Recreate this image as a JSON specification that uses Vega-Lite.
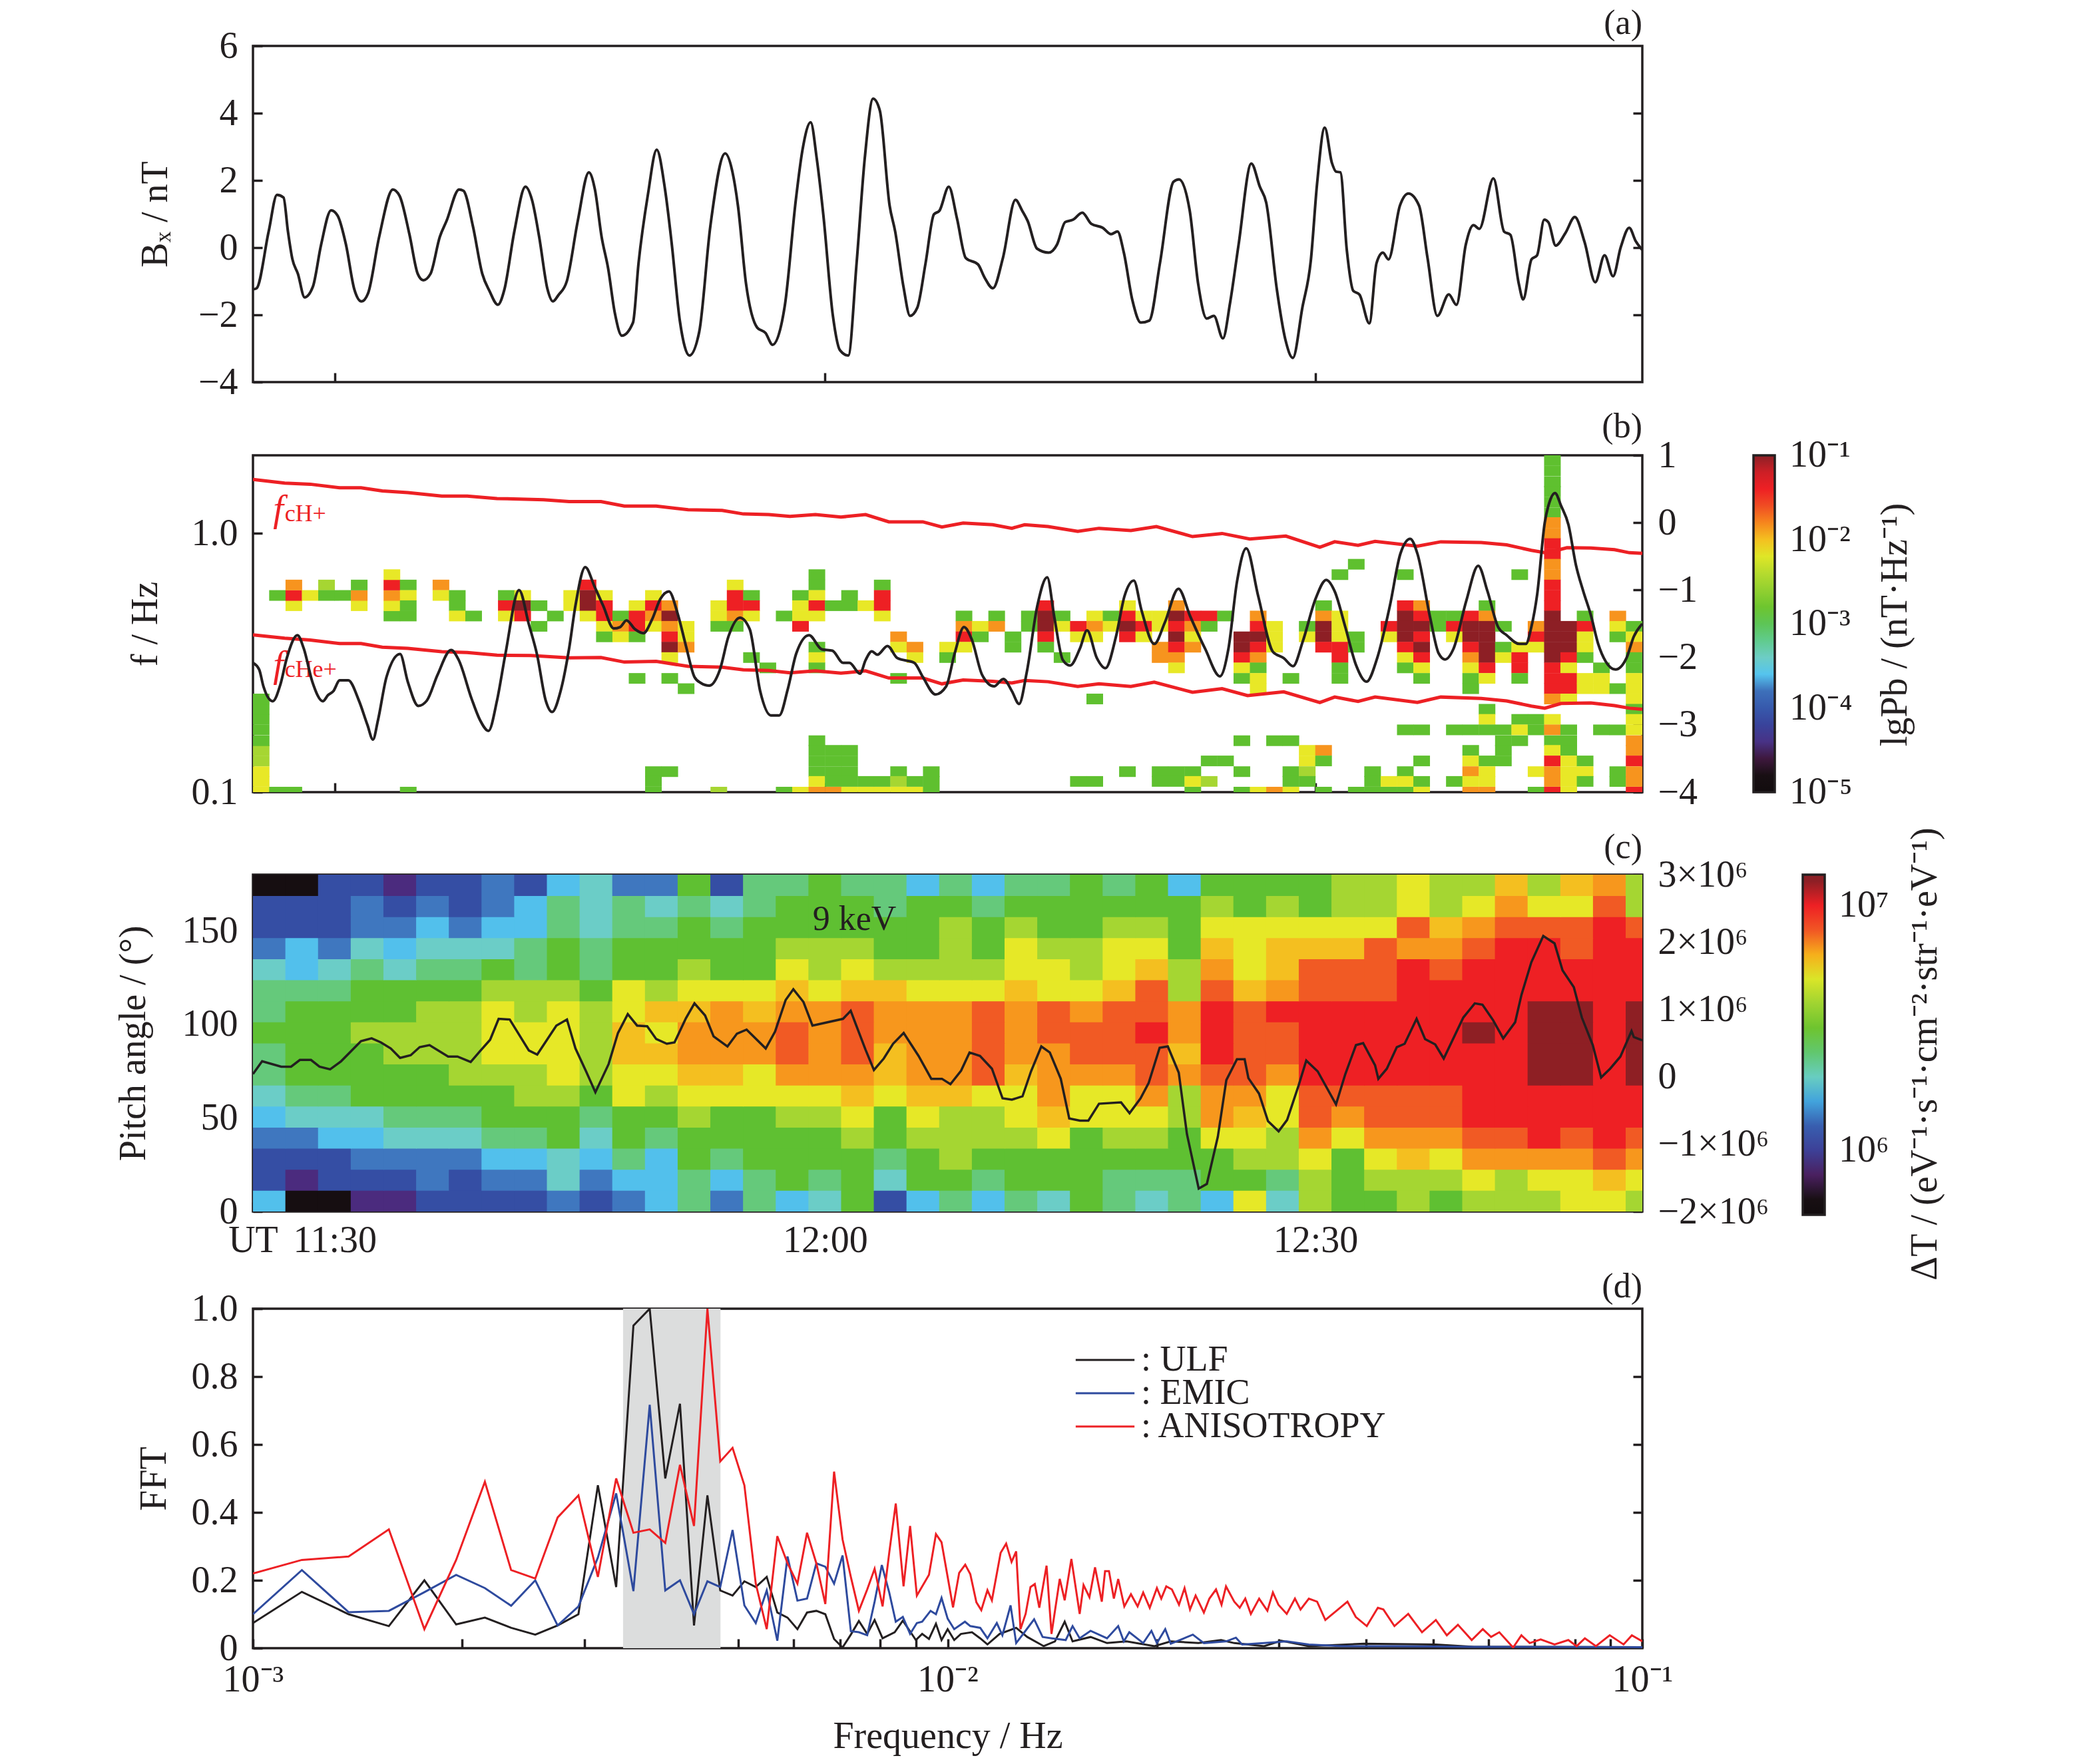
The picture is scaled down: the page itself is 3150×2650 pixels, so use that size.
{"$schema":"https://vega.github.io/schema/vega-lite/v6.json","background":"white","padding":{"left":170,"top":7,"right":0,"bottom":0},"bounds":"flush","spacing":0,
"resolve":{"scale":{"color":"independent"},"legend":{"color":"independent"}},
"config":{"font":"Liberation Serif","view":{"stroke":"#231f20","strokeWidth":3.5},"axis":{"grid":false,"domain":false,"tickSize":-14,"tickWidth":3.5,"tickColor":"#231f20","labelFont":"Liberation Serif","labelFontSize":56,"labelColor":"#231f20","labelPadding":37,"labelOverlap":false,"labelFlush":false,"titleFont":"Liberation Serif","titleFontSize":56,"titleFontWeight":"normal","titleColor":"#231f20"},"title":{"font":"Liberation Serif","fontSize":52,"fontWeight":"normal","color":"#231f20","anchor":"end","frame":"group"},"legend":{"labelFont":"Liberation Serif","labelColor":"#231f20","labelLimit":600}},
"datasets":{
"bx":[{"t":0.02,"v":-1.24},{"t":0.22,"v":-1.21},{"t":0.96,"v":0.48},{"t":1.47,"v":1.57},{"t":1.87,"v":1.49},{"t":2.14,"v":0.48},{"t":2.41,"v":-0.34},{"t":2.75,"v":-0.78},{"t":3.16,"v":-1.48},{"t":3.66,"v":-1.17},{"t":4.17,"v":0.09},{"t":4.78,"v":1.11},{"t":5.18,"v":0.95},{"t":5.69,"v":0.09},{"t":6.2,"v":-1.24},{"t":6.64,"v":-1.6},{"t":7.04,"v":-1.36},{"t":7.72,"v":0.32},{"t":8.56,"v":1.73},{"t":8.97,"v":1.54},{"t":9.57,"v":0.4},{"t":10.08,"v":-0.78},{"t":10.42,"v":-0.97},{"t":10.86,"v":-0.78},{"t":11.43,"v":0.32},{"t":11.84,"v":0.79},{"t":12.61,"v":1.73},{"t":12.88,"v":1.69},{"t":13.46,"v":0.63},{"t":14.03,"v":-0.78},{"t":14.47,"v":-1.29},{"t":14.98,"v":-1.7},{"t":15.38,"v":-1.25},{"t":15.99,"v":0.48},{"t":16.67,"v":1.81},{"t":17.07,"v":1.42},{"t":17.51,"v":0.32},{"t":18.02,"v":-1.24},{"t":18.35,"v":-1.6},{"t":18.69,"v":-1.41},{"t":19.2,"v":-1.0},{"t":19.87,"v":0.79},{"t":20.55,"v":2.24},{"t":20.92,"v":1.73},{"t":21.33,"v":0.32},{"t":21.73,"v":-0.62},{"t":22.14,"v":-1.95},{"t":22.57,"v":-2.62},{"t":23.25,"v":-2.23},{"t":23.59,"v":-0.46},{"t":24.16,"v":1.57},{"t":24.7,"v":2.91},{"t":25.21,"v":1.73},{"t":25.61,"v":0.16},{"t":26.12,"v":-2.19},{"t":26.7,"v":-3.21},{"t":27.3,"v":-2.51},{"t":27.98,"v":0.63},{"t":28.89,"v":2.8},{"t":29.33,"v":2.26},{"t":29.67,"v":1.25},{"t":30.17,"v":-1.09},{"t":30.85,"v":-2.38},{"t":31.36,"v":-2.54},{"t":31.79,"v":-2.89},{"t":32.54,"v":-1.72},{"t":33.21,"v":1.41},{"t":33.62,"v":2.91},{"t":34.12,"v":3.73},{"t":34.49,"v":2.66},{"t":34.9,"v":0.95},{"t":35.48,"v":-2.03},{"t":35.91,"v":-3.05},{"t":36.42,"v":-3.21},{"t":36.93,"v":-0.46},{"t":37.43,"v":2.66},{"t":37.94,"v":4.43},{"t":38.35,"v":4.08},{"t":38.95,"v":1.25},{"t":39.29,"v":0.48},{"t":39.8,"v":-1.17},{"t":40.2,"v":-2.03},{"t":40.64,"v":-1.79},{"t":41.15,"v":-0.46},{"t":41.66,"v":0.99},{"t":42.0,"v":1.1},{"t":42.57,"v":1.81},{"t":43.07,"v":0.87},{"t":43.61,"v":-0.31},{"t":44.36,"v":-0.5},{"t":44.76,"v":-0.89},{"t":45.27,"v":-1.21},{"t":45.88,"v":-0.31},{"t":46.65,"v":1.42},{"t":47.06,"v":1.1},{"t":47.4,"v":0.79},{"t":47.97,"v":-0.03},{"t":48.68,"v":-0.15},{"t":49.19,"v":0.09},{"t":49.69,"v":0.76},{"t":50.17,"v":0.83},{"t":50.74,"v":1.04},{"t":51.28,"v":0.71},{"t":51.99,"v":0.59},{"t":52.5,"v":0.4},{"t":52.89,"v":0.48},{"t":53.28,"v":-0.15},{"t":53.8,"v":-1.56},{"t":54.32,"v":-2.23},{"t":54.84,"v":-2.17},{"t":55.49,"v":-0.46},{"t":56.32,"v":1.96},{"t":56.66,"v":2.03},{"t":57.31,"v":1.1},{"t":57.83,"v":-1.09},{"t":58.35,"v":-2.11},{"t":58.79,"v":-2.03},{"t":59.34,"v":-2.7},{"t":59.78,"v":-1.64},{"t":60.3,"v":0.09},{"t":61.08,"v":2.5},{"t":61.6,"v":1.81},{"t":61.99,"v":1.34},{"t":62.64,"v":-1.24},{"t":63.16,"v":-2.73},{"t":63.62,"v":-3.28},{"t":64.2,"v":-1.79},{"t":64.72,"v":-0.38},{"t":65.1,"v":1.89},{"t":65.57,"v":3.57},{"t":66.01,"v":2.52},{"t":66.27,"v":2.26},{"t":66.53,"v":2.24},{"t":66.92,"v":-0.07},{"t":67.31,"v":-1.28},{"t":67.7,"v":-1.4},{"t":68.3,"v":-2.25},{"t":68.74,"v":-0.46},{"t":69.13,"v":-0.15},{"t":69.47,"v":-0.35},{"t":70.17,"v":1.25},{"t":70.69,"v":1.61},{"t":71.34,"v":1.25},{"t":71.86,"v":-0.31},{"t":72.46,"v":-2.03},{"t":73.16,"v":-1.39},{"t":73.63,"v":-1.7},{"t":74.2,"v":0.09},{"t":74.67,"v":0.67},{"t":75.03,"v":0.56},{"t":75.89,"v":2.06},{"t":76.54,"v":0.48},{"t":76.93,"v":0.38},{"t":77.45,"v":-1.09},{"t":77.71,"v":-1.54},{"t":78.22,"v":-0.35},{"t":78.56,"v":-0.23},{"t":79.0,"v":0.83},{"t":79.26,"v":0.75},{"t":79.7,"v":0.06},{"t":80.3,"v":0.44},{"t":80.87,"v":0.91},{"t":81.47,"v":0.16},{"t":82.12,"v":-1.03},{"t":82.69,"v":-0.23},{"t":83.21,"v":-0.85},{"t":83.68,"v":0.01},{"t":84.2,"v":0.59},{"t":84.59,"v":0.2},{"t":85.0,"v":-0.07}],
"ulf2":[{"t":0,"v":-2.08},{"t":0.38,"v":-2.18},{"t":0.64,"v":-2.43},{"t":1.21,"v":-2.65},{"t":1.68,"v":-2.4},{"t":2.07,"v":-2.01},{"t":2.72,"v":-1.67},{"t":3.11,"v":-1.87},{"t":3.63,"v":-2.36},{"t":4.28,"v":-2.65},{"t":4.59,"v":-2.56},{"t":4.92,"v":-2.5},{"t":5.31,"v":-2.34},{"t":5.83,"v":-2.34},{"t":6.48,"v":-2.64},{"t":7.0,"v":-3.0},{"t":7.34,"v":-3.22},{"t":7.65,"v":-2.93},{"t":8.17,"v":-2.29},{"t":9.0,"v":-1.95},{"t":9.47,"v":-2.36},{"t":10.12,"v":-2.72},{"t":10.64,"v":-2.64},{"t":11.29,"v":-2.26},{"t":12.12,"v":-1.89},{"t":12.59,"v":-2.04},{"t":13.37,"v":-2.61},{"t":13.89,"v":-2.93},{"t":14.41,"v":-3.09},{"t":14.93,"v":-2.64},{"t":15.45,"v":-1.94},{"t":16.28,"v":-1.0},{"t":16.88,"v":-1.51},{"t":17.39,"v":-1.97},{"t":17.91,"v":-2.64},{"t":18.3,"v":-2.81},{"t":18.82,"v":-2.5},{"t":19.34,"v":-1.87},{"t":19.73,"v":-1.23},{"t":20.33,"v":-0.66},{"t":20.9,"v":-0.95},{"t":21.42,"v":-1.23},{"t":22.07,"v":-1.57},{"t":22.46,"v":-1.55},{"t":22.85,"v":-1.45},{"t":23.37,"v":-1.58},{"t":23.89,"v":-1.64},{"t":24.41,"v":-1.44},{"t":24.93,"v":-1.13},{"t":25.45,"v":-1.02},{"t":25.97,"v":-1.34},{"t":26.49,"v":-1.83},{"t":27.01,"v":-2.29},{"t":27.4,"v":-2.38},{"t":27.92,"v":-2.42},{"t":28.57,"v":-2.18},{"t":29.09,"v":-1.69},{"t":29.79,"v":-1.41},{"t":30.39,"v":-1.58},{"t":31.03,"v":-2.5},{"t":31.68,"v":-2.86},{"t":32.2,"v":-2.86},{"t":32.72,"v":-2.47},{"t":33.24,"v":-1.94},{"t":34.02,"v":-1.67},{"t":34.8,"v":-1.88},{"t":35.45,"v":-1.9},{"t":36.1,"v":-2.08},{"t":36.49,"v":-2.08},{"t":37.14,"v":-2.24},{"t":37.48,"v":-2.04},{"t":37.86,"v":-1.91},{"t":38.2,"v":-1.96},{"t":38.82,"v":-1.83},{"t":39.42,"v":-2.01},{"t":40.46,"v":-2.08},{"t":40.98,"v":-2.29},{"t":41.76,"v":-2.55},{"t":42.41,"v":-2.43},{"t":42.93,"v":-1.94},{"t":43.5,"v":-1.55},{"t":43.97,"v":-1.73},{"t":44.61,"v":-2.26},{"t":45.34,"v":-2.43},{"t":45.91,"v":-2.32},{"t":46.43,"v":-2.5},{"t":46.87,"v":-2.69},{"t":47.34,"v":-2.22},{"t":47.99,"v":-1.23},{"t":48.59,"v":-0.81},{"t":49.03,"v":-1.41},{"t":49.55,"v":-2.04},{"t":49.99,"v":-2.12},{"t":50.59,"v":-1.87},{"t":51.03,"v":-1.6},{"t":51.63,"v":-2.01},{"t":52.15,"v":-2.16},{"t":52.8,"v":-1.69},{"t":53.32,"v":-1.09},{"t":53.89,"v":-0.86},{"t":54.36,"v":-1.3},{"t":55.14,"v":-1.8},{"t":55.79,"v":-1.48},{"t":56.62,"v":-0.98},{"t":57.34,"v":-1.39},{"t":58.25,"v":-1.87},{"t":59.16,"v":-2.28},{"t":59.68,"v":-1.87},{"t":60.2,"v":-0.88},{"t":60.77,"v":-0.38},{"t":61.5,"v":-1.09},{"t":62.41,"v":-1.92},{"t":63.06,"v":-2.01},{"t":63.63,"v":-2.13},{"t":64.23,"v":-1.76},{"t":65.01,"v":-1.13},{"t":65.66,"v":-0.85},{"t":66.18,"v":-1.02},{"t":66.83,"v":-1.55},{"t":67.48,"v":-2.11},{"t":68.13,"v":-2.36},{"t":68.78,"v":-2.01},{"t":69.56,"v":-1.23},{"t":70.2,"v":-0.46},{"t":70.8,"v":-0.24},{"t":71.24,"v":-0.46},{"t":72.02,"v":-1.41},{"t":72.54,"v":-1.94},{"t":72.93,"v":-2.03},{"t":73.45,"v":-1.87},{"t":74.23,"v":-1.16},{"t":74.96,"v":-0.64},{"t":75.53,"v":-1.02},{"t":76.18,"v":-1.55},{"t":76.7,"v":-1.67},{"t":77.48,"v":-1.8},{"t":77.87,"v":-1.8},{"t":78.21,"v":-1.55},{"t":78.57,"v":-1.06},{"t":79.03,"v":0},{"t":79.3,"v":0.29},{"t":79.66,"v":0.44},{"t":80.03,"v":0.25},{"t":80.48,"v":-0.03},{"t":80.94,"v":-0.63},{"t":81.39,"v":-1.02},{"t":81.85,"v":-1.37},{"t":82.3,"v":-1.8},{"t":82.76,"v":-2.06},{"t":83.36,"v":-2.18},{"t":84.03,"v":-2.01},{"t":84.48,"v":-1.69},{"t":85,"v":-1.5}],
"gyro":[{"s":"H","t":0,"f":1.613},{"s":"H","t":1.94,"f":1.563},{"s":"H","t":3.5,"f":1.547},{"s":"H","t":5.31,"f":1.498},{"s":"H","t":6.61,"f":1.498},{"s":"H","t":7.91,"f":1.457},{"s":"H","t":9.47,"f":1.436},{"s":"H","t":11.55,"f":1.391},{"s":"H","t":13.11,"f":1.391},{"s":"H","t":14.93,"f":1.362},{"s":"H","t":17.78,"f":1.348},{"s":"H","t":19.34,"f":1.325},{"s":"H","t":21.29,"f":1.325},{"s":"H","t":22.72,"f":1.273},{"s":"H","t":24.67,"f":1.273},{"s":"H","t":26.62,"f":1.233},{"s":"H","t":28.7,"f":1.225},{"s":"H","t":30.0,"f":1.187},{"s":"H","t":31.55,"f":1.18},{"s":"H","t":32.85,"f":1.162},{"s":"H","t":34.41,"f":1.18},{"s":"H","t":35.97,"f":1.155},{"s":"H","t":37.48,"f":1.18},{"s":"H","t":38.9,"f":1.107},{"s":"H","t":40.98,"f":1.107},{"s":"H","t":42.15,"f":1.057},{"s":"H","t":43.45,"f":1.095},{"s":"H","t":45.26,"f":1.079},{"s":"H","t":46.43,"f":1.045},{"s":"H","t":47.21,"f":1.079},{"s":"H","t":48.64,"f":1.061},{"s":"H","t":50.46,"f":1.017},{"s":"H","t":51.76,"f":1.045},{"s":"H","t":53.71,"f":1.024},{"s":"H","t":55.27,"f":1.061},{"s":"H","t":57.48,"f":0.971},{"s":"H","t":59.29,"f":0.998},{"s":"H","t":60.98,"f":0.95},{"s":"H","t":63.19,"f":0.975},{"s":"H","t":65.27,"f":0.883},{"s":"H","t":66.18,"f":0.927},{"s":"H","t":67.61,"f":0.898},{"s":"H","t":68.65,"f":0.93},{"s":"H","t":71.24,"f":0.892},{"s":"H","t":72.67,"f":0.927},{"s":"H","t":75.14,"f":0.921},{"s":"H","t":76.7,"f":0.902},{"s":"H","t":78.21,"f":0.859},{"s":"H","t":79.03,"f":0.841},{"s":"H","t":79.66,"f":0.855},{"s":"H","t":80.39,"f":0.879},{"s":"H","t":81.85,"f":0.877},{"s":"H","t":83.3,"f":0.864},{"s":"H","t":84.21,"f":0.841},{"s":"H","t":85,"f":0.837},
{"s":"He","t":0,"f":0.405},{"s":"He","t":1.94,"f":0.393},{"s":"He","t":3.5,"f":0.387},{"s":"He","t":5.31,"f":0.375},{"s":"He","t":6.61,"f":0.375},{"s":"He","t":7.91,"f":0.363},{"s":"He","t":9.47,"f":0.359},{"s":"He","t":11.55,"f":0.349},{"s":"He","t":13.11,"f":0.346},{"s":"He","t":14.93,"f":0.338},{"s":"He","t":17,"f":0.337},{"s":"He","t":19.34,"f":0.33},{"s":"He","t":21.29,"f":0.331},{"s":"He","t":22.72,"f":0.318},{"s":"He","t":24.67,"f":0.32},{"s":"He","t":26.62,"f":0.306},{"s":"He","t":28.7,"f":0.304},{"s":"He","t":30,"f":0.297},{"s":"He","t":31.55,"f":0.295},{"s":"He","t":32.85,"f":0.289},{"s":"He","t":34.41,"f":0.294},{"s":"He","t":35.97,"f":0.288},{"s":"He","t":37.48,"f":0.294},{"s":"He","t":38.9,"f":0.276},{"s":"He","t":40.98,"f":0.276},{"s":"He","t":42.15,"f":0.262},{"s":"He","t":43.45,"f":0.271},{"s":"He","t":45.26,"f":0.268},{"s":"He","t":46.43,"f":0.264},{"s":"He","t":47.21,"f":0.27},{"s":"He","t":48.64,"f":0.267},{"s":"He","t":50.46,"f":0.256},{"s":"He","t":51.76,"f":0.262},{"s":"He","t":53.71,"f":0.256},{"s":"He","t":55.14,"f":0.266},{"s":"He","t":57.48,"f":0.243},{"s":"He","t":59.29,"f":0.251},{"s":"He","t":60.85,"f":0.236},{"s":"He","t":63.06,"f":0.244},{"s":"He","t":65.27,"f":0.222},{"s":"He","t":66.18,"f":0.233},{"s":"He","t":67.61,"f":0.224},{"s":"He","t":68.65,"f":0.233},{"s":"He","t":71.24,"f":0.222},{"s":"He","t":72.67,"f":0.233},{"s":"He","t":75.14,"f":0.23},{"s":"He","t":76.7,"f":0.225},{"s":"He","t":78.21,"f":0.215},{"s":"He","t":79.03,"f":0.211},{"s":"He","t":80.03,"f":0.22},{"s":"He","t":81.85,"f":0.221},{"s":"He","t":83.3,"f":0.216},{"s":"He","t":84.21,"f":0.211},{"s":"He","t":85,"f":0.209}],
"spec":[{"t":0.5,"f":0.1,"v":-2.16},{"t":0.5,"f":0.11,"v":-2.16},{"t":0.5,"f":0.12,"v":-2.16},{"t":0.5,"f":0.132,"v":-2.48},{"t":0.5,"f":0.145,"v":-2.48},{"t":0.5,"f":0.158,"v":-2.88},{"t":0.5,"f":0.174,"v":-2.88},{"t":0.5,"f":0.191,"v":-2.88},{"t":0.5,"f":0.209,"v":-2.88},{"t":0.5,"f":0.229,"v":-2.88},{"t":1.5,"f":0.1,"v":-2.88},{"t":1.5,"f":0.575,"v":-2.88},{"t":2.5,"f":0.1,"v":-2.88},{"t":2.5,"f":0.525,"v":-2.16},{"t":2.5,"f":0.575,"v":-1.4},{"t":2.5,"f":0.631,"v":-1.84},{"t":3.5,"f":0.575,"v":-2.16},{"t":4.5,"f":0.631,"v":-2.48},{"t":4.5,"f":0.575,"v":-2.88},{"t":5.5,"f":0.575,"v":-2.88},{"t":6.5,"f":0.525,"v":-2.16},{"t":6.5,"f":0.575,"v":-1.84},{"t":6.5,"f":0.631,"v":-2.88},{"t":8.5,"f":0.479,"v":-2.88},{"t":8.5,"f":0.525,"v":-2.16},{"t":8.5,"f":0.575,"v":-1.84},{"t":8.5,"f":0.631,"v":-1.4},{"t":8.5,"f":0.692,"v":-2.16},{"t":9.5,"f":0.1,"v":-2.88},{"t":9.5,"f":0.631,"v":-2.88},{"t":9.5,"f":0.575,"v":-2.16},{"t":9.5,"f":0.525,"v":-2.88},{"t":9.5,"f":0.479,"v":-2.88},{"t":11.5,"f":0.631,"v":-1.84},{"t":11.5,"f":0.575,"v":-2.16},{"t":12.5,"f":0.575,"v":-2.88},{"t":12.5,"f":0.525,"v":-2.88},{"t":12.5,"f":0.479,"v":-2.16},{"t":13.5,"f":0.479,"v":-2.88},{"t":15.5,"f":0.575,"v":-2.88},{"t":15.5,"f":0.525,"v":-1.4},{"t":15.5,"f":0.479,"v":-2.16},{"t":16.5,"f":0.575,"v":-2.16},{"t":16.5,"f":0.525,"v":-1.08},{"t":16.5,"f":0.479,"v":-1.4},{"t":17.5,"f":0.525,"v":-2.88},{"t":17.5,"f":0.437,"v":-2.88},{"t":18.5,"f":0.479,"v":-2.88},{"t":19.5,"f":0.575,"v":-2.16},{"t":19.5,"f":0.525,"v":-2.16},{"t":20.5,"f":0.631,"v":-1.4},{"t":20.5,"f":0.575,"v":-1.08},{"t":20.5,"f":0.525,"v":-1.08},{"t":20.5,"f":0.479,"v":-2.16},{"t":21.5,"f":0.575,"v":-2.16},{"t":21.5,"f":0.525,"v":-1.4},{"t":21.5,"f":0.479,"v":-1.4},{"t":21.5,"f":0.437,"v":-2.16},{"t":21.5,"f":0.398,"v":-2.88},{"t":22.5,"f":0.479,"v":-2.88},{"t":22.5,"f":0.437,"v":-1.84},{"t":22.5,"f":0.398,"v":-2.16},{"t":23.5,"f":0.525,"v":-2.16},{"t":23.5,"f":0.479,"v":-1.4},{"t":23.5,"f":0.437,"v":-1.4},{"t":23.5,"f":0.398,"v":-2.88},{"t":23.5,"f":0.275,"v":-2.88},{"t":24.5,"f":0.575,"v":-2.16},{"t":24.5,"f":0.525,"v":-1.4},{"t":24.5,"f":0.479,"v":-1.84},{"t":24.5,"f":0.437,"v":-2.16},{"t":24.5,"f":0.12,"v":-2.88},{"t":24.5,"f":0.11,"v":-2.88},{"t":24.5,"f":0.1,"v":-2.88},{"t":25.5,"f":0.525,"v":-1.84},{"t":25.5,"f":0.479,"v":-1.08},{"t":25.5,"f":0.437,"v":-1.84},{"t":25.5,"f":0.398,"v":-1.4},{"t":25.5,"f":0.363,"v":-1.08},{"t":25.5,"f":0.331,"v":-2.16},{"t":25.5,"f":0.275,"v":-2.88},{"t":25.5,"f":0.12,"v":-2.88},{"t":26.5,"f":0.437,"v":-2.16},{"t":26.5,"f":0.398,"v":-2.16},{"t":26.5,"f":0.363,"v":-1.84},{"t":26.5,"f":0.251,"v":-2.88},{"t":28.5,"f":0.525,"v":-2.16},{"t":28.5,"f":0.479,"v":-2.16},{"t":28.5,"f":0.437,"v":-2.88},{"t":28.5,"f":0.1,"v":-2.48},{"t":29.5,"f":0.631,"v":-2.16},{"t":29.5,"f":0.575,"v":-1.4},{"t":29.5,"f":0.525,"v":-1.4},{"t":29.5,"f":0.479,"v":-1.84},{"t":29.5,"f":0.437,"v":-2.88},{"t":30.5,"f":0.575,"v":-2.88},{"t":30.5,"f":0.525,"v":-1.4},{"t":30.5,"f":0.479,"v":-2.16},{"t":30.5,"f":0.331,"v":-2.88},{"t":31.5,"f":0.302,"v":-2.88},{"t":32.5,"f":0.1,"v":-2.88},{"t":32.5,"f":0.479,"v":-2.88},{"t":33.5,"f":0.575,"v":-2.88},{"t":33.5,"f":0.525,"v":-2.16},{"t":33.5,"f":0.479,"v":-2.16},{"t":33.5,"f":0.437,"v":-1.4},{"t":33.5,"f":0.1,"v":-2.16},{"t":34.5,"f":0.692,"v":-2.88},{"t":34.5,"f":0.631,"v":-2.88},{"t":34.5,"f":0.575,"v":-2.16},{"t":34.5,"f":0.525,"v":-1.4},{"t":34.5,"f":0.479,"v":-2.16},{"t":34.5,"f":0.363,"v":-2.88},{"t":34.5,"f":0.331,"v":-2.16},{"t":34.5,"f":0.302,"v":-2.88},{"t":34.5,"f":0.158,"v":-2.88},{"t":34.5,"f":0.145,"v":-2.88},{"t":34.5,"f":0.132,"v":-2.88},{"t":34.5,"f":0.12,"v":-2.88},{"t":34.5,"f":0.11,"v":-2.16},{"t":34.5,"f":0.1,"v":-1.84},{"t":35.5,"f":0.525,"v":-2.88},{"t":35.5,"f":0.145,"v":-2.88},{"t":35.5,"f":0.132,"v":-2.88},{"t":35.5,"f":0.12,"v":-2.88},{"t":35.5,"f":0.11,"v":-2.88},{"t":35.5,"f":0.1,"v":-1.84},{"t":36.5,"f":0.575,"v":-2.88},{"t":36.5,"f":0.525,"v":-2.88},{"t":36.5,"f":0.145,"v":-2.88},{"t":36.5,"f":0.132,"v":-2.88},{"t":36.5,"f":0.12,"v":-2.88},{"t":36.5,"f":0.11,"v":-2.88},{"t":36.5,"f":0.1,"v":-2.16},{"t":37.5,"f":0.525,"v":-2.16},{"t":37.5,"f":0.11,"v":-2.88},{"t":37.5,"f":0.1,"v":-2.16},{"t":38.5,"f":0.631,"v":-2.88},{"t":38.5,"f":0.575,"v":-1.4},{"t":38.5,"f":0.525,"v":-1.4},{"t":38.5,"f":0.479,"v":-2.16},{"t":38.5,"f":0.11,"v":-2.88},{"t":38.5,"f":0.1,"v":-2.16},{"t":39.5,"f":0.398,"v":-1.84},{"t":39.5,"f":0.363,"v":-2.16},{"t":39.5,"f":0.275,"v":-2.88},{"t":39.5,"f":0.12,"v":-2.88},{"t":39.5,"f":0.11,"v":-2.48},{"t":39.5,"f":0.1,"v":-2.16},{"t":40.5,"f":0.363,"v":-1.84},{"t":40.5,"f":0.331,"v":-2.16},{"t":40.5,"f":0.11,"v":-2.88},{"t":40.5,"f":0.1,"v":-2.16},{"t":41.5,"f":0.12,"v":-2.88},{"t":41.5,"f":0.11,"v":-2.88},{"t":41.5,"f":0.1,"v":-2.88},{"t":42.5,"f":0.363,"v":-2.16},{"t":42.5,"f":0.331,"v":-2.88},{"t":43.5,"f":0.479,"v":-2.88},{"t":43.5,"f":0.437,"v":-1.84},{"t":43.5,"f":0.398,"v":-1.4},{"t":43.5,"f":0.363,"v":-2.16},{"t":44.5,"f":0.437,"v":-2.16},{"t":44.5,"f":0.398,"v":-2.88},{"t":45.5,"f":0.479,"v":-2.88},{"t":45.5,"f":0.437,"v":-1.84},{"t":46.5,"f":0.398,"v":-2.88},{"t":46.5,"f":0.363,"v":-2.88},{"t":47.5,"f":0.479,"v":-2.88},{"t":47.5,"f":0.437,"v":-2.88},{"t":48.5,"f":0.525,"v":-1.4},{"t":48.5,"f":0.479,"v":-1.08},{"t":48.5,"f":0.437,"v":-1.08},{"t":48.5,"f":0.398,"v":-1.4},{"t":48.5,"f":0.363,"v":-2.88},{"t":49.5,"f":0.479,"v":-2.88},{"t":49.5,"f":0.437,"v":-2.16},{"t":49.5,"f":0.331,"v":-2.88},{"t":50.5,"f":0.437,"v":-1.4},{"t":50.5,"f":0.398,"v":-2.16},{"t":50.5,"f":0.11,"v":-2.88},{"t":51.5,"f":0.479,"v":-2.16},{"t":51.5,"f":0.437,"v":-1.84},{"t":51.5,"f":0.398,"v":-2.16},{"t":51.5,"f":0.229,"v":-2.88},{"t":51.5,"f":0.11,"v":-2.88},{"t":52.5,"f":0.479,"v":-2.88},{"t":52.5,"f":0.437,"v":-2.16},{"t":53.5,"f":0.525,"v":-2.16},{"t":53.5,"f":0.479,"v":-1.4},{"t":53.5,"f":0.437,"v":-1.08},{"t":53.5,"f":0.398,"v":-1.4},{"t":53.5,"f":0.12,"v":-2.88},{"t":54.5,"f":0.479,"v":-2.16},{"t":54.5,"f":0.437,"v":-1.4},{"t":54.5,"f":0.398,"v":-2.16},{"t":55.5,"f":0.479,"v":-2.16},{"t":55.5,"f":0.437,"v":-2.16},{"t":55.5,"f":0.363,"v":-1.84},{"t":55.5,"f":0.331,"v":-1.84},{"t":55.5,"f":0.12,"v":-2.88},{"t":55.5,"f":0.11,"v":-2.88},{"t":56.5,"f":0.525,"v":-1.84},{"t":56.5,"f":0.479,"v":-1.08},{"t":56.5,"f":0.437,"v":-1.4},{"t":56.5,"f":0.398,"v":-1.08},{"t":56.5,"f":0.363,"v":-1.4},{"t":56.5,"f":0.331,"v":-1.84},{"t":56.5,"f":0.302,"v":-2.16},{"t":56.5,"f":0.12,"v":-2.88},{"t":56.5,"f":0.11,"v":-2.88},{"t":57.5,"f":0.479,"v":-1.4},{"t":57.5,"f":0.437,"v":-1.84},{"t":57.5,"f":0.398,"v":-2.16},{"t":57.5,"f":0.363,"v":-1.84},{"t":57.5,"f":0.12,"v":-2.88},{"t":57.5,"f":0.11,"v":-2.16},{"t":57.5,"f":0.1,"v":-2.88},{"t":58.5,"f":0.479,"v":-1.4},{"t":58.5,"f":0.437,"v":-2.88},{"t":58.5,"f":0.132,"v":-2.88},{"t":58.5,"f":0.11,"v":-2.48},{"t":59.5,"f":0.479,"v":-2.88},{"t":59.5,"f":0.132,"v":-2.88},{"t":60.5,"f":0.398,"v":-1.08},{"t":60.5,"f":0.363,"v":-1.08},{"t":60.5,"f":0.331,"v":-1.4},{"t":60.5,"f":0.302,"v":-2.16},{"t":60.5,"f":0.275,"v":-2.88},{"t":60.5,"f":0.158,"v":-2.88},{"t":60.5,"f":0.12,"v":-2.88},{"t":60.5,"f":0.1,"v":-2.88},{"t":61.5,"f":0.479,"v":-1.84},{"t":61.5,"f":0.437,"v":-1.4},{"t":61.5,"f":0.398,"v":-1.08},{"t":61.5,"f":0.363,"v":-1.4},{"t":61.5,"f":0.331,"v":-1.84},{"t":61.5,"f":0.302,"v":-2.88},{"t":61.5,"f":0.275,"v":-2.16},{"t":61.5,"f":0.251,"v":-2.16},{"t":61.5,"f":0.1,"v":-2.16},{"t":62.5,"f":0.437,"v":-2.16},{"t":62.5,"f":0.398,"v":-2.16},{"t":62.5,"f":0.363,"v":-2.16},{"t":62.5,"f":0.158,"v":-2.88},{"t":62.5,"f":0.1,"v":-1.84},{"t":63.5,"f":0.275,"v":-2.88},{"t":63.5,"f":0.158,"v":-2.88},{"t":63.5,"f":0.12,"v":-2.88},{"t":63.5,"f":0.11,"v":-2.88},{"t":63.5,"f":0.1,"v":-2.16},{"t":64.5,"f":0.437,"v":-2.88},{"t":64.5,"f":0.398,"v":-2.16},{"t":64.5,"f":0.145,"v":-2.16},{"t":64.5,"f":0.132,"v":-2.16},{"t":64.5,"f":0.12,"v":-2.48},{"t":64.5,"f":0.11,"v":-2.88},{"t":65.5,"f":0.525,"v":-2.88},{"t":65.5,"f":0.479,"v":-1.84},{"t":65.5,"f":0.437,"v":-1.08},{"t":65.5,"f":0.398,"v":-1.08},{"t":65.5,"f":0.363,"v":-1.4},{"t":65.5,"f":0.145,"v":-1.84},{"t":65.5,"f":0.132,"v":-2.88},{"t":65.5,"f":0.1,"v":-2.88},{"t":66.5,"f":0.692,"v":-2.88},{"t":66.5,"f":0.479,"v":-2.16},{"t":66.5,"f":0.437,"v":-2.16},{"t":66.5,"f":0.398,"v":-2.16},{"t":66.5,"f":0.363,"v":-1.4},{"t":66.5,"f":0.331,"v":-1.4},{"t":66.5,"f":0.302,"v":-2.88},{"t":66.5,"f":0.275,"v":-2.88},{"t":67.5,"f":0.759,"v":-2.88},{"t":67.5,"f":0.398,"v":-2.88},{"t":67.5,"f":0.363,"v":-2.88},{"t":67.5,"f":0.1,"v":-2.88},{"t":68.5,"f":0.12,"v":-2.88},{"t":68.5,"f":0.11,"v":-2.88},{"t":68.5,"f":0.1,"v":-2.88},{"t":69.5,"f":0.437,"v":-1.4},{"t":69.5,"f":0.398,"v":-2.16},{"t":69.5,"f":0.11,"v":-2.16},{"t":69.5,"f":0.1,"v":-2.88},{"t":70.5,"f":0.692,"v":-2.88},{"t":70.5,"f":0.525,"v":-1.4},{"t":70.5,"f":0.479,"v":-1.08},{"t":70.5,"f":0.437,"v":-1.08},{"t":70.5,"f":0.398,"v":-1.08},{"t":70.5,"f":0.363,"v":-1.4},{"t":70.5,"f":0.331,"v":-2.16},{"t":70.5,"f":0.302,"v":-2.88},{"t":70.5,"f":0.174,"v":-2.88},{"t":70.5,"f":0.12,"v":-2.88},{"t":70.5,"f":0.11,"v":-2.16},{"t":70.5,"f":0.1,"v":-2.88},{"t":71.5,"f":0.525,"v":-1.84},{"t":71.5,"f":0.479,"v":-1.4},{"t":71.5,"f":0.437,"v":-1.08},{"t":71.5,"f":0.398,"v":-1.4},{"t":71.5,"f":0.363,"v":-1.08},{"t":71.5,"f":0.331,"v":-1.4},{"t":71.5,"f":0.302,"v":-2.16},{"t":71.5,"f":0.275,"v":-2.88},{"t":71.5,"f":0.174,"v":-2.88},{"t":71.5,"f":0.132,"v":-2.88},{"t":71.5,"f":0.11,"v":-2.88},{"t":71.5,"f":0.1,"v":-2.16},{"t":72.5,"f":0.479,"v":-2.88},{"t":72.5,"f":0.437,"v":-2.88},{"t":73.5,"f":0.479,"v":-2.88},{"t":73.5,"f":0.437,"v":-1.4},{"t":73.5,"f":0.398,"v":-2.16},{"t":73.5,"f":0.174,"v":-2.88},{"t":73.5,"f":0.11,"v":-2.88},{"t":74.5,"f":0.479,"v":-1.4},{"t":74.5,"f":0.437,"v":-1.08},{"t":74.5,"f":0.398,"v":-1.08},{"t":74.5,"f":0.363,"v":-1.4},{"t":74.5,"f":0.331,"v":-1.84},{"t":74.5,"f":0.302,"v":-2.16},{"t":74.5,"f":0.275,"v":-2.88},{"t":74.5,"f":0.251,"v":-2.88},{"t":74.5,"f":0.174,"v":-2.88},{"t":74.5,"f":0.145,"v":-2.88},{"t":74.5,"f":0.132,"v":-2.16},{"t":74.5,"f":0.12,"v":-1.84},{"t":74.5,"f":0.11,"v":-2.16},{"t":74.5,"f":0.1,"v":-1.84},{"t":75.5,"f":0.525,"v":-2.88},{"t":75.5,"f":0.479,"v":-1.84},{"t":75.5,"f":0.437,"v":-1.08},{"t":75.5,"f":0.398,"v":-1.08},{"t":75.5,"f":0.363,"v":-1.08},{"t":75.5,"f":0.331,"v":-1.08},{"t":75.5,"f":0.302,"v":-1.4},{"t":75.5,"f":0.275,"v":-2.16},{"t":75.5,"f":0.209,"v":-2.88},{"t":75.5,"f":0.191,"v":-2.16},{"t":75.5,"f":0.174,"v":-2.88},{"t":75.5,"f":0.132,"v":-2.88},{"t":75.5,"f":0.12,"v":-2.16},{"t":75.5,"f":0.11,"v":-2.16},{"t":75.5,"f":0.1,"v":-1.84},{"t":76.5,"f":0.437,"v":-2.88},{"t":76.5,"f":0.363,"v":-2.88},{"t":76.5,"f":0.331,"v":-2.16},{"t":76.5,"f":0.174,"v":-2.88},{"t":76.5,"f":0.158,"v":-2.88},{"t":76.5,"f":0.145,"v":-2.88},{"t":76.5,"f":0.132,"v":-2.88},{"t":77.5,"f":0.692,"v":-2.88},{"t":77.5,"f":0.363,"v":-2.16},{"t":77.5,"f":0.331,"v":-1.4},{"t":77.5,"f":0.302,"v":-1.4},{"t":77.5,"f":0.275,"v":-2.88},{"t":77.5,"f":0.191,"v":-2.88},{"t":77.5,"f":0.174,"v":-2.16},{"t":77.5,"f":0.158,"v":-2.88},{"t":78.5,"f":0.437,"v":-1.84},{"t":78.5,"f":0.398,"v":-1.4},{"t":78.5,"f":0.363,"v":-2.16},{"t":78.5,"f":0.191,"v":-2.88},{"t":78.5,"f":0.174,"v":-2.88},{"t":78.5,"f":0.12,"v":-2.16},{"t":78.5,"f":0.1,"v":-2.88},{"t":79.5,"f":1.91,"v":-2.88},{"t":79.5,"f":1.74,"v":-2.88},{"t":79.5,"f":1.58,"v":-2.88},{"t":79.5,"f":1.45,"v":-2.88},{"t":79.5,"f":1.32,"v":-2.88},{"t":79.5,"f":1.2,"v":-2.88},{"t":79.5,"f":1.1,"v":-1.84},{"t":79.5,"f":1.0,"v":-1.84},{"t":79.5,"f":0.912,"v":-1.4},{"t":79.5,"f":0.832,"v":-1.4},{"t":79.5,"f":0.759,"v":-1.84},{"t":79.5,"f":0.692,"v":-1.84},{"t":79.5,"f":0.631,"v":-1.4},{"t":79.5,"f":0.575,"v":-1.4},{"t":79.5,"f":0.525,"v":-1.4},{"t":79.5,"f":0.479,"v":-1.08},{"t":79.5,"f":0.437,"v":-1.08},{"t":79.5,"f":0.398,"v":-1.08},{"t":79.5,"f":0.363,"v":-1.08},{"t":79.5,"f":0.331,"v":-1.08},{"t":79.5,"f":0.302,"v":-1.4},{"t":79.5,"f":0.275,"v":-1.4},{"t":79.5,"f":0.251,"v":-1.4},{"t":79.5,"f":0.229,"v":-1.84},{"t":79.5,"f":0.191,"v":-2.16},{"t":79.5,"f":0.174,"v":-1.84},{"t":79.5,"f":0.158,"v":-2.88},{"t":79.5,"f":0.145,"v":-2.16},{"t":79.5,"f":0.132,"v":-1.4},{"t":79.5,"f":0.12,"v":-1.84},{"t":79.5,"f":0.11,"v":-1.84},{"t":79.5,"f":0.1,"v":-1.4},{"t":80.5,"f":0.437,"v":-1.08},{"t":80.5,"f":0.398,"v":-1.08},{"t":80.5,"f":0.363,"v":-1.08},{"t":80.5,"f":0.331,"v":-1.4},{"t":80.5,"f":0.302,"v":-2.16},{"t":80.5,"f":0.275,"v":-1.4},{"t":80.5,"f":0.251,"v":-1.4},{"t":80.5,"f":0.229,"v":-2.16},{"t":80.5,"f":0.174,"v":-2.88},{"t":80.5,"f":0.158,"v":-2.88},{"t":80.5,"f":0.145,"v":-2.88},{"t":80.5,"f":0.132,"v":-2.16},{"t":80.5,"f":0.12,"v":-2.16},{"t":80.5,"f":0.11,"v":-2.16},{"t":80.5,"f":0.1,"v":-2.16},{"t":81.5,"f":0.479,"v":-2.88},{"t":81.5,"f":0.437,"v":-1.4},{"t":81.5,"f":0.398,"v":-2.16},{"t":81.5,"f":0.363,"v":-2.16},{"t":81.5,"f":0.331,"v":-2.88},{"t":81.5,"f":0.275,"v":-2.16},{"t":81.5,"f":0.251,"v":-2.16},{"t":81.5,"f":0.132,"v":-2.88},{"t":81.5,"f":0.12,"v":-2.16},{"t":81.5,"f":0.11,"v":-2.88},{"t":82.5,"f":0.302,"v":-2.88},{"t":82.5,"f":0.275,"v":-2.16},{"t":82.5,"f":0.251,"v":-2.16},{"t":82.5,"f":0.174,"v":-2.88},{"t":83.5,"f":0.479,"v":-1.84},{"t":83.5,"f":0.437,"v":-2.16},{"t":83.5,"f":0.398,"v":-2.88},{"t":83.5,"f":0.251,"v":-2.88},{"t":83.5,"f":0.174,"v":-2.88},{"t":83.5,"f":0.12,"v":-2.88},{"t":83.5,"f":0.11,"v":-2.88},{"t":84.5,"f":0.437,"v":-2.88},{"t":84.5,"f":0.398,"v":-2.16},{"t":84.5,"f":0.363,"v":-1.84},{"t":84.5,"f":0.331,"v":-2.88},{"t":84.5,"f":0.302,"v":-2.88},{"t":84.5,"f":0.275,"v":-2.16},{"t":84.5,"f":0.251,"v":-2.16},{"t":84.5,"f":0.229,"v":-2.16},{"t":84.5,"f":0.209,"v":-2.88},{"t":84.5,"f":0.191,"v":-2.16},{"t":84.5,"f":0.174,"v":-2.16},{"t":84.5,"f":0.158,"v":-1.84},{"t":84.5,"f":0.145,"v":-1.84},{"t":84.5,"f":0.132,"v":-1.4},{"t":84.5,"f":0.12,"v":-1.84},{"t":84.5,"f":0.11,"v":-1.84},{"t":84.5,"f":0.1,"v":-1.4}],
"heat":[
{"t":1,"a":5.6,"v":6.22},{"t":3,"a":5.6,"v":5.78},{"t":5,"a":5.6,"v":5.78},{"t":7,"a":5.6,"v":5.92},{"t":9,"a":5.6,"v":5.92},{"t":11,"a":5.6,"v":6.05},{"t":13,"a":5.6,"v":6.05},{"t":15,"a":5.6,"v":6.05},{"t":17,"a":5.6,"v":6.05},{"t":19,"a":5.6,"v":6.17},{"t":21,"a":5.6,"v":6.05},{"t":23,"a":5.6,"v":6.17},{"t":25,"a":5.6,"v":6.22},{"t":27,"a":5.6,"v":6.38},{"t":29,"a":5.6,"v":6.17},{"t":31,"a":5.6,"v":6.38},{"t":33,"a":5.6,"v":6.22},{"t":35,"a":5.6,"v":6.29},{"t":37,"a":5.6,"v":6.47},{"t":39,"a":5.6,"v":6.05},{"t":41,"a":5.6,"v":6.22},{"t":43,"a":5.6,"v":6.38},{"t":45,"a":5.6,"v":6.22},{"t":47,"a":5.6,"v":6.38},{"t":49,"a":5.6,"v":6.29},{"t":51,"a":5.6,"v":6.47},{"t":53,"a":5.6,"v":6.38},{"t":55,"a":5.6,"v":6.29},{"t":57,"a":5.6,"v":6.38},{"t":59,"a":5.6,"v":6.22},{"t":61,"a":5.6,"v":6.72},{"t":63,"a":5.6,"v":6.29},{"t":65,"a":5.6,"v":6.61},{"t":67,"a":5.6,"v":6.47},{"t":69,"a":5.6,"v":6.47},{"t":71,"a":5.6,"v":6.61},{"t":73,"a":5.6,"v":6.47},{"t":75,"a":5.6,"v":6.61},{"t":77,"a":5.6,"v":6.61},{"t":79,"a":5.6,"v":6.61},{"t":81,"a":5.6,"v":6.72},{"t":83,"a":5.6,"v":6.72},{"t":85,"a":5.6,"v":6.61},
{"t":1,"a":16.9,"v":6.05},{"t":3,"a":16.9,"v":5.92},{"t":5,"a":16.9,"v":6.05},{"t":7,"a":16.9,"v":6.05},{"t":9,"a":16.9,"v":6.05},{"t":11,"a":16.9,"v":6.17},{"t":13,"a":16.9,"v":6.05},{"t":15,"a":16.9,"v":6.17},{"t":17,"a":16.9,"v":6.17},{"t":19,"a":16.9,"v":6.29},{"t":21,"a":16.9,"v":6.17},{"t":23,"a":16.9,"v":6.22},{"t":25,"a":16.9,"v":6.22},{"t":27,"a":16.9,"v":6.38},{"t":29,"a":16.9,"v":6.22},{"t":31,"a":16.9,"v":6.38},{"t":33,"a":16.9,"v":6.47},{"t":35,"a":16.9,"v":6.38},{"t":37,"a":16.9,"v":6.47},{"t":39,"a":16.9,"v":6.29},{"t":41,"a":16.9,"v":6.47},{"t":43,"a":16.9,"v":6.47},{"t":45,"a":16.9,"v":6.38},{"t":47,"a":16.9,"v":6.47},{"t":49,"a":16.9,"v":6.47},{"t":51,"a":16.9,"v":6.47},{"t":53,"a":16.9,"v":6.38},{"t":55,"a":16.9,"v":6.38},{"t":57,"a":16.9,"v":6.38},{"t":59,"a":16.9,"v":6.47},{"t":61,"a":16.9,"v":6.47},{"t":63,"a":16.9,"v":6.38},{"t":65,"a":16.9,"v":6.61},{"t":67,"a":16.9,"v":6.47},{"t":69,"a":16.9,"v":6.61},{"t":71,"a":16.9,"v":6.61},{"t":73,"a":16.9,"v":6.61},{"t":75,"a":16.9,"v":6.72},{"t":77,"a":16.9,"v":6.61},{"t":79,"a":16.9,"v":6.72},{"t":81,"a":16.9,"v":6.72},{"t":83,"a":16.9,"v":6.78},{"t":85,"a":16.9,"v":6.72},
{"t":1,"a":28.1,"v":6.05},{"t":3,"a":28.1,"v":6.05},{"t":5,"a":28.1,"v":6.05},{"t":7,"a":28.1,"v":6.17},{"t":9,"a":28.1,"v":6.17},{"t":11,"a":28.1,"v":6.17},{"t":13,"a":28.1,"v":6.17},{"t":15,"a":28.1,"v":6.22},{"t":17,"a":28.1,"v":6.22},{"t":19,"a":28.1,"v":6.29},{"t":21,"a":28.1,"v":6.22},{"t":23,"a":28.1,"v":6.38},{"t":25,"a":28.1,"v":6.22},{"t":27,"a":28.1,"v":6.47},{"t":29,"a":28.1,"v":6.38},{"t":31,"a":28.1,"v":6.47},{"t":33,"a":28.1,"v":6.47},{"t":35,"a":28.1,"v":6.47},{"t":37,"a":28.1,"v":6.47},{"t":39,"a":28.1,"v":6.38},{"t":41,"a":28.1,"v":6.47},{"t":43,"a":28.1,"v":6.61},{"t":45,"a":28.1,"v":6.47},{"t":47,"a":28.1,"v":6.47},{"t":49,"a":28.1,"v":6.47},{"t":51,"a":28.1,"v":6.47},{"t":53,"a":28.1,"v":6.47},{"t":55,"a":28.1,"v":6.47},{"t":57,"a":28.1,"v":6.47},{"t":59,"a":28.1,"v":6.47},{"t":61,"a":28.1,"v":6.61},{"t":63,"a":28.1,"v":6.61},{"t":65,"a":28.1,"v":6.72},{"t":67,"a":28.1,"v":6.47},{"t":69,"a":28.1,"v":6.72},{"t":71,"a":28.1,"v":6.78},{"t":73,"a":28.1,"v":6.72},{"t":75,"a":28.1,"v":6.83},{"t":77,"a":28.1,"v":6.83},{"t":79,"a":28.1,"v":6.83},{"t":81,"a":28.1,"v":6.83},{"t":83,"a":28.1,"v":6.89},{"t":85,"a":28.1,"v":6.83},
{"t":1,"a":39.4,"v":6.17},{"t":3,"a":39.4,"v":6.17},{"t":5,"a":39.4,"v":6.22},{"t":7,"a":39.4,"v":6.22},{"t":9,"a":39.4,"v":6.29},{"t":11,"a":39.4,"v":6.29},{"t":13,"a":39.4,"v":6.29},{"t":15,"a":39.4,"v":6.38},{"t":17,"a":39.4,"v":6.38},{"t":19,"a":39.4,"v":6.47},{"t":21,"a":39.4,"v":6.29},{"t":23,"a":39.4,"v":6.47},{"t":25,"a":39.4,"v":6.38},{"t":27,"a":39.4,"v":6.47},{"t":29,"a":39.4,"v":6.47},{"t":31,"a":39.4,"v":6.47},{"t":33,"a":39.4,"v":6.47},{"t":35,"a":39.4,"v":6.47},{"t":37,"a":39.4,"v":6.61},{"t":39,"a":39.4,"v":6.47},{"t":41,"a":39.4,"v":6.61},{"t":43,"a":39.4,"v":6.61},{"t":45,"a":39.4,"v":6.61},{"t":47,"a":39.4,"v":6.61},{"t":49,"a":39.4,"v":6.72},{"t":51,"a":39.4,"v":6.47},{"t":53,"a":39.4,"v":6.61},{"t":55,"a":39.4,"v":6.61},{"t":57,"a":39.4,"v":6.47},{"t":59,"a":39.4,"v":6.72},{"t":61,"a":39.4,"v":6.72},{"t":63,"a":39.4,"v":6.61},{"t":65,"a":39.4,"v":6.83},{"t":67,"a":39.4,"v":6.72},{"t":69,"a":39.4,"v":6.83},{"t":71,"a":39.4,"v":6.83},{"t":73,"a":39.4,"v":6.83},{"t":75,"a":39.4,"v":6.89},{"t":77,"a":39.4,"v":6.89},{"t":79,"a":39.4,"v":6.99},{"t":81,"a":39.4,"v":6.89},{"t":83,"a":39.4,"v":6.99},{"t":85,"a":39.4,"v":6.89},
{"t":1,"a":50.6,"v":6.22},{"t":3,"a":50.6,"v":6.29},{"t":5,"a":50.6,"v":6.29},{"t":7,"a":50.6,"v":6.29},{"t":9,"a":50.6,"v":6.38},{"t":11,"a":50.6,"v":6.38},{"t":13,"a":50.6,"v":6.38},{"t":15,"a":50.6,"v":6.47},{"t":17,"a":50.6,"v":6.47},{"t":19,"a":50.6,"v":6.47},{"t":21,"a":50.6,"v":6.38},{"t":23,"a":50.6,"v":6.47},{"t":25,"a":50.6,"v":6.47},{"t":27,"a":50.6,"v":6.61},{"t":29,"a":50.6,"v":6.47},{"t":31,"a":50.6,"v":6.47},{"t":33,"a":50.6,"v":6.61},{"t":35,"a":50.6,"v":6.61},{"t":37,"a":50.6,"v":6.72},{"t":39,"a":50.6,"v":6.47},{"t":41,"a":50.6,"v":6.72},{"t":43,"a":50.6,"v":6.61},{"t":45,"a":50.6,"v":6.61},{"t":47,"a":50.6,"v":6.72},{"t":49,"a":50.6,"v":6.78},{"t":51,"a":50.6,"v":6.72},{"t":53,"a":50.6,"v":6.72},{"t":55,"a":50.6,"v":6.72},{"t":57,"a":50.6,"v":6.61},{"t":59,"a":50.6,"v":6.83},{"t":61,"a":50.6,"v":6.78},{"t":63,"a":50.6,"v":6.72},{"t":65,"a":50.6,"v":6.89},{"t":67,"a":50.6,"v":6.83},{"t":69,"a":50.6,"v":6.89},{"t":71,"a":50.6,"v":6.89},{"t":73,"a":50.6,"v":6.89},{"t":75,"a":50.6,"v":6.99},{"t":77,"a":50.6,"v":6.99},{"t":79,"a":50.6,"v":6.99},{"t":81,"a":50.6,"v":6.99},{"t":83,"a":50.6,"v":6.99},{"t":85,"a":50.6,"v":6.99},
{"t":1,"a":61.9,"v":6.29},{"t":3,"a":61.9,"v":6.38},{"t":5,"a":61.9,"v":6.38},{"t":7,"a":61.9,"v":6.47},{"t":9,"a":61.9,"v":6.47},{"t":11,"a":61.9,"v":6.47},{"t":13,"a":61.9,"v":6.47},{"t":15,"a":61.9,"v":6.47},{"t":17,"a":61.9,"v":6.61},{"t":19,"a":61.9,"v":6.61},{"t":21,"a":61.9,"v":6.47},{"t":23,"a":61.9,"v":6.72},{"t":25,"a":61.9,"v":6.61},{"t":27,"a":61.9,"v":6.72},{"t":29,"a":61.9,"v":6.72},{"t":31,"a":61.9,"v":6.72},{"t":33,"a":61.9,"v":6.72},{"t":35,"a":61.9,"v":6.72},{"t":37,"a":61.9,"v":6.78},{"t":39,"a":61.9,"v":6.72},{"t":41,"a":61.9,"v":6.78},{"t":43,"a":61.9,"v":6.78},{"t":45,"a":61.9,"v":6.72},{"t":47,"a":61.9,"v":6.72},{"t":49,"a":61.9,"v":6.83},{"t":51,"a":61.9,"v":6.72},{"t":53,"a":61.9,"v":6.72},{"t":55,"a":61.9,"v":6.83},{"t":57,"a":61.9,"v":6.61},{"t":59,"a":61.9,"v":6.83},{"t":61,"a":61.9,"v":6.83},{"t":63,"a":61.9,"v":6.72},{"t":65,"a":61.9,"v":6.89},{"t":67,"a":61.9,"v":6.89},{"t":69,"a":61.9,"v":6.89},{"t":71,"a":61.9,"v":6.89},{"t":73,"a":61.9,"v":6.89},{"t":75,"a":61.9,"v":6.99},{"t":77,"a":61.9,"v":6.99},{"t":79,"a":61.9,"v":6.99},{"t":81,"a":61.9,"v":6.99},{"t":83,"a":61.9,"v":6.99},{"t":85,"a":61.9,"v":6.99},
{"t":1,"a":73.1,"v":6.38},{"t":3,"a":73.1,"v":6.47},{"t":5,"a":73.1,"v":6.47},{"t":7,"a":73.1,"v":6.47},{"t":9,"a":73.1,"v":6.47},{"t":11,"a":73.1,"v":6.47},{"t":13,"a":73.1,"v":6.61},{"t":15,"a":73.1,"v":6.61},{"t":17,"a":73.1,"v":6.61},{"t":19,"a":73.1,"v":6.72},{"t":21,"a":73.1,"v":6.61},{"t":23,"a":73.1,"v":6.72},{"t":25,"a":73.1,"v":6.72},{"t":27,"a":73.1,"v":6.78},{"t":29,"a":73.1,"v":6.78},{"t":31,"a":73.1,"v":6.72},{"t":33,"a":73.1,"v":6.83},{"t":35,"a":73.1,"v":6.83},{"t":37,"a":73.1,"v":6.83},{"t":39,"a":73.1,"v":6.78},{"t":41,"a":73.1,"v":6.83},{"t":43,"a":73.1,"v":6.83},{"t":45,"a":73.1,"v":6.89},{"t":47,"a":73.1,"v":6.78},{"t":49,"a":73.1,"v":6.83},{"t":51,"a":73.1,"v":6.83},{"t":53,"a":73.1,"v":6.83},{"t":55,"a":73.1,"v":6.89},{"t":57,"a":73.1,"v":6.83},{"t":59,"a":73.1,"v":6.89},{"t":61,"a":73.1,"v":6.89},{"t":63,"a":73.1,"v":6.83},{"t":65,"a":73.1,"v":6.99},{"t":67,"a":73.1,"v":6.99},{"t":69,"a":73.1,"v":6.99},{"t":71,"a":73.1,"v":6.99},{"t":73,"a":73.1,"v":6.99},{"t":75,"a":73.1,"v":6.99},{"t":77,"a":73.1,"v":6.99},{"t":79,"a":73.1,"v":7.09},{"t":81,"a":73.1,"v":7.09},{"t":83,"a":73.1,"v":6.99},{"t":85,"a":73.1,"v":7.09},
{"t":1,"a":84.4,"v":6.38},{"t":3,"a":84.4,"v":6.47},{"t":5,"a":84.4,"v":6.47},{"t":7,"a":84.4,"v":6.47},{"t":9,"a":84.4,"v":6.61},{"t":11,"a":84.4,"v":6.61},{"t":13,"a":84.4,"v":6.61},{"t":15,"a":84.4,"v":6.72},{"t":17,"a":84.4,"v":6.72},{"t":19,"a":84.4,"v":6.72},{"t":21,"a":84.4,"v":6.61},{"t":23,"a":84.4,"v":6.78},{"t":25,"a":84.4,"v":6.78},{"t":27,"a":84.4,"v":6.83},{"t":29,"a":84.4,"v":6.83},{"t":31,"a":84.4,"v":6.83},{"t":33,"a":84.4,"v":6.89},{"t":35,"a":84.4,"v":6.83},{"t":37,"a":84.4,"v":6.89},{"t":39,"a":84.4,"v":6.78},{"t":41,"a":84.4,"v":6.83},{"t":43,"a":84.4,"v":6.83},{"t":45,"a":84.4,"v":6.89},{"t":47,"a":84.4,"v":6.83},{"t":49,"a":84.4,"v":6.83},{"t":51,"a":84.4,"v":6.89},{"t":53,"a":84.4,"v":6.89},{"t":55,"a":84.4,"v":6.89},{"t":57,"a":84.4,"v":6.78},{"t":59,"a":84.4,"v":6.99},{"t":61,"a":84.4,"v":6.89},{"t":63,"a":84.4,"v":6.89},{"t":65,"a":84.4,"v":6.99},{"t":67,"a":84.4,"v":6.99},{"t":69,"a":84.4,"v":6.99},{"t":71,"a":84.4,"v":6.99},{"t":73,"a":84.4,"v":6.99},{"t":75,"a":84.4,"v":6.99},{"t":77,"a":84.4,"v":6.99},{"t":79,"a":84.4,"v":7.09},{"t":81,"a":84.4,"v":7.09},{"t":83,"a":84.4,"v":6.99},{"t":85,"a":84.4,"v":7.09},
{"t":1,"a":95.6,"v":6.47},{"t":3,"a":95.6,"v":6.47},{"t":5,"a":95.6,"v":6.47},{"t":7,"a":95.6,"v":6.61},{"t":9,"a":95.6,"v":6.61},{"t":11,"a":95.6,"v":6.61},{"t":13,"a":95.6,"v":6.61},{"t":15,"a":95.6,"v":6.72},{"t":17,"a":95.6,"v":6.72},{"t":19,"a":95.6,"v":6.72},{"t":21,"a":95.6,"v":6.61},{"t":23,"a":95.6,"v":6.78},{"t":25,"a":95.6,"v":6.72},{"t":27,"a":95.6,"v":6.83},{"t":29,"a":95.6,"v":6.83},{"t":31,"a":95.6,"v":6.83},{"t":33,"a":95.6,"v":6.89},{"t":35,"a":95.6,"v":6.83},{"t":37,"a":95.6,"v":6.89},{"t":39,"a":95.6,"v":6.83},{"t":41,"a":95.6,"v":6.83},{"t":43,"a":95.6,"v":6.83},{"t":45,"a":95.6,"v":6.89},{"t":47,"a":95.6,"v":6.83},{"t":49,"a":95.6,"v":6.89},{"t":51,"a":95.6,"v":6.89},{"t":53,"a":95.6,"v":6.89},{"t":55,"a":95.6,"v":6.99},{"t":57,"a":95.6,"v":6.83},{"t":59,"a":95.6,"v":6.99},{"t":61,"a":95.6,"v":6.89},{"t":63,"a":95.6,"v":6.89},{"t":65,"a":95.6,"v":6.99},{"t":67,"a":95.6,"v":6.99},{"t":69,"a":95.6,"v":6.99},{"t":71,"a":95.6,"v":6.99},{"t":73,"a":95.6,"v":6.99},{"t":75,"a":95.6,"v":7.09},{"t":77,"a":95.6,"v":6.99},{"t":79,"a":95.6,"v":7.09},{"t":81,"a":95.6,"v":7.09},{"t":83,"a":95.6,"v":6.99},{"t":85,"a":95.6,"v":7.09},
{"t":1,"a":106.9,"v":6.38},{"t":3,"a":106.9,"v":6.47},{"t":5,"a":106.9,"v":6.47},{"t":7,"a":106.9,"v":6.47},{"t":9,"a":106.9,"v":6.47},{"t":11,"a":106.9,"v":6.61},{"t":13,"a":106.9,"v":6.61},{"t":15,"a":106.9,"v":6.72},{"t":17,"a":106.9,"v":6.61},{"t":19,"a":106.9,"v":6.72},{"t":21,"a":106.9,"v":6.61},{"t":23,"a":106.9,"v":6.72},{"t":25,"a":106.9,"v":6.78},{"t":27,"a":106.9,"v":6.78},{"t":29,"a":106.9,"v":6.83},{"t":31,"a":106.9,"v":6.78},{"t":33,"a":106.9,"v":6.83},{"t":35,"a":106.9,"v":6.83},{"t":37,"a":106.9,"v":6.89},{"t":39,"a":106.9,"v":6.83},{"t":41,"a":106.9,"v":6.83},{"t":43,"a":106.9,"v":6.83},{"t":45,"a":106.9,"v":6.89},{"t":47,"a":106.9,"v":6.83},{"t":49,"a":106.9,"v":6.89},{"t":51,"a":106.9,"v":6.83},{"t":53,"a":106.9,"v":6.89},{"t":55,"a":106.9,"v":6.89},{"t":57,"a":106.9,"v":6.83},{"t":59,"a":106.9,"v":6.99},{"t":61,"a":106.9,"v":6.89},{"t":63,"a":106.9,"v":6.99},{"t":65,"a":106.9,"v":6.99},{"t":67,"a":106.9,"v":6.99},{"t":69,"a":106.9,"v":6.99},{"t":71,"a":106.9,"v":6.99},{"t":73,"a":106.9,"v":6.99},{"t":75,"a":106.9,"v":6.99},{"t":77,"a":106.9,"v":6.99},{"t":79,"a":106.9,"v":7.09},{"t":81,"a":106.9,"v":7.09},{"t":83,"a":106.9,"v":6.99},{"t":85,"a":106.9,"v":7.09},
{"t":1,"a":118.1,"v":6.38},{"t":3,"a":118.1,"v":6.38},{"t":5,"a":118.1,"v":6.38},{"t":7,"a":118.1,"v":6.47},{"t":9,"a":118.1,"v":6.47},{"t":11,"a":118.1,"v":6.47},{"t":13,"a":118.1,"v":6.47},{"t":15,"a":118.1,"v":6.61},{"t":17,"a":118.1,"v":6.61},{"t":19,"a":118.1,"v":6.61},{"t":21,"a":118.1,"v":6.47},{"t":23,"a":118.1,"v":6.72},{"t":25,"a":118.1,"v":6.61},{"t":27,"a":118.1,"v":6.72},{"t":29,"a":118.1,"v":6.72},{"t":31,"a":118.1,"v":6.72},{"t":33,"a":118.1,"v":6.78},{"t":35,"a":118.1,"v":6.72},{"t":37,"a":118.1,"v":6.78},{"t":39,"a":118.1,"v":6.78},{"t":41,"a":118.1,"v":6.72},{"t":43,"a":118.1,"v":6.72},{"t":45,"a":118.1,"v":6.72},{"t":47,"a":118.1,"v":6.78},{"t":49,"a":118.1,"v":6.72},{"t":51,"a":118.1,"v":6.72},{"t":53,"a":118.1,"v":6.78},{"t":55,"a":118.1,"v":6.89},{"t":57,"a":118.1,"v":6.61},{"t":59,"a":118.1,"v":6.89},{"t":61,"a":118.1,"v":6.78},{"t":63,"a":118.1,"v":6.83},{"t":65,"a":118.1,"v":6.89},{"t":67,"a":118.1,"v":6.89},{"t":69,"a":118.1,"v":6.89},{"t":71,"a":118.1,"v":6.99},{"t":73,"a":118.1,"v":6.99},{"t":75,"a":118.1,"v":6.99},{"t":77,"a":118.1,"v":6.99},{"t":79,"a":118.1,"v":6.99},{"t":81,"a":118.1,"v":6.99},{"t":83,"a":118.1,"v":6.99},{"t":85,"a":118.1,"v":6.99},
{"t":1,"a":129.4,"v":6.29},{"t":3,"a":129.4,"v":6.22},{"t":5,"a":129.4,"v":6.29},{"t":7,"a":129.4,"v":6.38},{"t":9,"a":129.4,"v":6.29},{"t":11,"a":129.4,"v":6.38},{"t":13,"a":129.4,"v":6.38},{"t":15,"a":129.4,"v":6.47},{"t":17,"a":129.4,"v":6.38},{"t":19,"a":129.4,"v":6.47},{"t":21,"a":129.4,"v":6.38},{"t":23,"a":129.4,"v":6.47},{"t":25,"a":129.4,"v":6.47},{"t":27,"a":129.4,"v":6.61},{"t":29,"a":129.4,"v":6.47},{"t":31,"a":129.4,"v":6.47},{"t":33,"a":129.4,"v":6.72},{"t":35,"a":129.4,"v":6.61},{"t":37,"a":129.4,"v":6.72},{"t":39,"a":129.4,"v":6.61},{"t":41,"a":129.4,"v":6.61},{"t":43,"a":129.4,"v":6.61},{"t":45,"a":129.4,"v":6.61},{"t":47,"a":129.4,"v":6.72},{"t":49,"a":129.4,"v":6.72},{"t":51,"a":129.4,"v":6.61},{"t":53,"a":129.4,"v":6.72},{"t":55,"a":129.4,"v":6.78},{"t":57,"a":129.4,"v":6.61},{"t":59,"a":129.4,"v":6.83},{"t":61,"a":129.4,"v":6.72},{"t":63,"a":129.4,"v":6.78},{"t":65,"a":129.4,"v":6.89},{"t":67,"a":129.4,"v":6.89},{"t":69,"a":129.4,"v":6.89},{"t":71,"a":129.4,"v":6.99},{"t":73,"a":129.4,"v":6.89},{"t":75,"a":129.4,"v":6.99},{"t":77,"a":129.4,"v":6.99},{"t":79,"a":129.4,"v":6.99},{"t":81,"a":129.4,"v":6.99},{"t":83,"a":129.4,"v":6.99},{"t":85,"a":129.4,"v":6.99},
{"t":1,"a":140.6,"v":6.17},{"t":3,"a":140.6,"v":6.22},{"t":5,"a":140.6,"v":6.17},{"t":7,"a":140.6,"v":6.29},{"t":9,"a":140.6,"v":6.22},{"t":11,"a":140.6,"v":6.29},{"t":13,"a":140.6,"v":6.29},{"t":15,"a":140.6,"v":6.29},{"t":17,"a":140.6,"v":6.38},{"t":19,"a":140.6,"v":6.47},{"t":21,"a":140.6,"v":6.38},{"t":23,"a":140.6,"v":6.47},{"t":25,"a":140.6,"v":6.47},{"t":27,"a":140.6,"v":6.47},{"t":29,"a":140.6,"v":6.47},{"t":31,"a":140.6,"v":6.47},{"t":33,"a":140.6,"v":6.61},{"t":35,"a":140.6,"v":6.61},{"t":37,"a":140.6,"v":6.61},{"t":39,"a":140.6,"v":6.47},{"t":41,"a":140.6,"v":6.47},{"t":43,"a":140.6,"v":6.61},{"t":45,"a":140.6,"v":6.47},{"t":47,"a":140.6,"v":6.72},{"t":49,"a":140.6,"v":6.61},{"t":51,"a":140.6,"v":6.61},{"t":53,"a":140.6,"v":6.72},{"t":55,"a":140.6,"v":6.72},{"t":57,"a":140.6,"v":6.47},{"t":59,"a":140.6,"v":6.78},{"t":61,"a":140.6,"v":6.72},{"t":63,"a":140.6,"v":6.78},{"t":65,"a":140.6,"v":6.78},{"t":67,"a":140.6,"v":6.78},{"t":69,"a":140.6,"v":6.89},{"t":71,"a":140.6,"v":6.83},{"t":73,"a":140.6,"v":6.83},{"t":75,"a":140.6,"v":6.89},{"t":77,"a":140.6,"v":6.99},{"t":79,"a":140.6,"v":6.99},{"t":81,"a":140.6,"v":6.89},{"t":83,"a":140.6,"v":6.99},{"t":85,"a":140.6,"v":6.99},
{"t":1,"a":151.9,"v":6.05},{"t":3,"a":151.9,"v":6.05},{"t":5,"a":151.9,"v":6.05},{"t":7,"a":151.9,"v":6.17},{"t":9,"a":151.9,"v":6.17},{"t":11,"a":151.9,"v":6.22},{"t":13,"a":151.9,"v":6.17},{"t":15,"a":151.9,"v":6.22},{"t":17,"a":151.9,"v":6.22},{"t":19,"a":151.9,"v":6.38},{"t":21,"a":151.9,"v":6.29},{"t":23,"a":151.9,"v":6.38},{"t":25,"a":151.9,"v":6.38},{"t":27,"a":151.9,"v":6.47},{"t":29,"a":151.9,"v":6.38},{"t":31,"a":151.9,"v":6.47},{"t":33,"a":151.9,"v":6.47},{"t":35,"a":151.9,"v":6.47},{"t":37,"a":151.9,"v":6.47},{"t":39,"a":151.9,"v":6.47},{"t":41,"a":151.9,"v":6.47},{"t":43,"a":151.9,"v":6.61},{"t":45,"a":151.9,"v":6.47},{"t":47,"a":151.9,"v":6.61},{"t":49,"a":151.9,"v":6.47},{"t":51,"a":151.9,"v":6.47},{"t":53,"a":151.9,"v":6.61},{"t":55,"a":151.9,"v":6.61},{"t":57,"a":151.9,"v":6.47},{"t":59,"a":151.9,"v":6.72},{"t":61,"a":151.9,"v":6.72},{"t":63,"a":151.9,"v":6.72},{"t":65,"a":151.9,"v":6.72},{"t":67,"a":151.9,"v":6.72},{"t":69,"a":151.9,"v":6.72},{"t":71,"a":151.9,"v":6.89},{"t":73,"a":151.9,"v":6.78},{"t":75,"a":151.9,"v":6.83},{"t":77,"a":151.9,"v":6.89},{"t":79,"a":151.9,"v":6.89},{"t":81,"a":151.9,"v":6.89},{"t":83,"a":151.9,"v":6.99},{"t":85,"a":151.9,"v":6.89},
{"t":1,"a":163.1,"v":6.05},{"t":3,"a":163.1,"v":6.05},{"t":5,"a":163.1,"v":6.05},{"t":7,"a":163.1,"v":6.17},{"t":9,"a":163.1,"v":6.05},{"t":11,"a":163.1,"v":6.17},{"t":13,"a":163.1,"v":6.05},{"t":15,"a":163.1,"v":6.17},{"t":17,"a":163.1,"v":6.22},{"t":19,"a":163.1,"v":6.38},{"t":21,"a":163.1,"v":6.29},{"t":23,"a":163.1,"v":6.38},{"t":25,"a":163.1,"v":6.29},{"t":27,"a":163.1,"v":6.38},{"t":29,"a":163.1,"v":6.29},{"t":31,"a":163.1,"v":6.38},{"t":33,"a":163.1,"v":6.47},{"t":35,"a":163.1,"v":6.47},{"t":37,"a":163.1,"v":6.47},{"t":39,"a":163.1,"v":6.38},{"t":41,"a":163.1,"v":6.47},{"t":43,"a":163.1,"v":6.47},{"t":45,"a":163.1,"v":6.38},{"t":47,"a":163.1,"v":6.47},{"t":49,"a":163.1,"v":6.47},{"t":51,"a":163.1,"v":6.47},{"t":53,"a":163.1,"v":6.47},{"t":55,"a":163.1,"v":6.47},{"t":57,"a":163.1,"v":6.47},{"t":59,"a":163.1,"v":6.61},{"t":61,"a":163.1,"v":6.47},{"t":63,"a":163.1,"v":6.61},{"t":65,"a":163.1,"v":6.47},{"t":67,"a":163.1,"v":6.61},{"t":69,"a":163.1,"v":6.61},{"t":71,"a":163.1,"v":6.72},{"t":73,"a":163.1,"v":6.61},{"t":75,"a":163.1,"v":6.72},{"t":77,"a":163.1,"v":6.83},{"t":79,"a":163.1,"v":6.72},{"t":81,"a":163.1,"v":6.72},{"t":83,"a":163.1,"v":6.89},{"t":85,"a":163.1,"v":6.61},
{"t":1,"a":174.4,"v":5.78},{"t":3,"a":174.4,"v":5.78},{"t":5,"a":174.4,"v":6.05},{"t":7,"a":174.4,"v":6.05},{"t":9,"a":174.4,"v":5.92},{"t":11,"a":174.4,"v":6.05},{"t":13,"a":174.4,"v":6.05},{"t":15,"a":174.4,"v":6.17},{"t":17,"a":174.4,"v":6.05},{"t":19,"a":174.4,"v":6.22},{"t":21,"a":174.4,"v":6.29},{"t":23,"a":174.4,"v":6.17},{"t":25,"a":174.4,"v":6.17},{"t":27,"a":174.4,"v":6.47},{"t":29,"a":174.4,"v":6.05},{"t":31,"a":174.4,"v":6.38},{"t":33,"a":174.4,"v":6.38},{"t":35,"a":174.4,"v":6.47},{"t":37,"a":174.4,"v":6.38},{"t":39,"a":174.4,"v":6.38},{"t":41,"a":174.4,"v":6.22},{"t":43,"a":174.4,"v":6.38},{"t":45,"a":174.4,"v":6.22},{"t":47,"a":174.4,"v":6.38},{"t":49,"a":174.4,"v":6.38},{"t":51,"a":174.4,"v":6.47},{"t":53,"a":174.4,"v":6.38},{"t":55,"a":174.4,"v":6.47},{"t":57,"a":174.4,"v":6.22},{"t":59,"a":174.4,"v":6.47},{"t":61,"a":174.4,"v":6.47},{"t":63,"a":174.4,"v":6.47},{"t":65,"a":174.4,"v":6.47},{"t":67,"a":174.4,"v":6.61},{"t":69,"a":174.4,"v":6.61},{"t":71,"a":174.4,"v":6.72},{"t":73,"a":174.4,"v":6.61},{"t":75,"a":174.4,"v":6.61},{"t":77,"a":174.4,"v":6.78},{"t":79,"a":174.4,"v":6.61},{"t":81,"a":174.4,"v":6.78},{"t":83,"a":174.4,"v":6.83},{"t":85,"a":174.4,"v":6.61}],
"anis":[{"t":0,"d":40000},{"t":0.56,"d":230000},{"t":1.73,"d":150000},{"t":2.33,"d":150000},{"t":2.87,"d":250000},{"t":3.55,"d":250000},{"t":4.07,"d":150000},{"t":4.72,"d":110000},{"t":5.39,"d":230000},{"t":6.61,"d":530000},{"t":7.26,"d":570000},{"t":7.83,"d":510000},{"t":8.43,"d":420000},{"t":9,"d":280000},{"t":9.65,"d":320000},{"t":10.2,"d":440000},{"t":10.8,"d":470000},{"t":11.94,"d":300000},{"t":12.51,"d":300000},{"t":13.32,"d":220000},{"t":13.89,"d":380000},{"t":14.51,"d":550000},{"t":15.03,"d":860000},{"t":15.71,"d":850000},{"t":16.88,"d":390000},{"t":17.39,"d":330000},{"t":18.56,"d":760000},{"t":19.21,"d":850000},{"t":19.73,"d":420000},{"t":20.38,"d":80000},{"t":20.95,"d":-230000},{"t":21.76,"d":190000},{"t":22.33,"d":650000},{"t":22.93,"d":930000},{"t":23.5,"d":760000},{"t":24.12,"d":750000},{"t":24.67,"d":560000},{"t":25.32,"d":490000},{"t":25.79,"d":510000},{"t":26.49,"d":870000},{"t":27.01,"d":1090000},{"t":27.66,"d":910000},{"t":28.18,"d":600000},{"t":29.03,"d":450000},{"t":29.61,"d":640000},{"t":30.2,"d":700000},{"t":31.37,"d":420000},{"t":31.94,"d":670000},{"t":32.59,"d":1140000},{"t":33.06,"d":1300000},{"t":33.68,"d":1110000},{"t":34.23,"d":760000},{"t":36.1,"d":860000},{"t":36.57,"d":980000},{"t":36.88,"d":780000},{"t":37.48,"d":400000},{"t":37.99,"d":100000},{"t":38.59,"d":270000},{"t":39.16,"d":490000},{"t":39.81,"d":650000},{"t":40.72,"d":310000},{"t":41.5,"d":-30000},{"t":42.15,"d":-30000},{"t":42.67,"d":-110000},{"t":43.32,"d":90000},{"t":43.84,"d":360000},{"t":44.48,"d":310000},{"t":45.21,"d":120000},{"t":45.86,"d":-320000},{"t":46.43,"d":-340000},{"t":47.08,"d":-290000},{"t":47.6,"d":80000},{"t":48.23,"d":450000},{"t":48.75,"d":360000},{"t":49.42,"d":-30000},{"t":49.94,"d":-620000},{"t":50.59,"d":-650000},{"t":51.11,"d":-650000},{"t":51.76,"d":-400000},{"t":53.11,"d":-380000},{"t":53.63,"d":-540000},{"t":54.3,"d":-320000},{"t":54.8,"d":-90000},{"t":55.47,"d":430000},{"t":55.97,"d":450000},{"t":56.64,"d":60000},{"t":57.14,"d":-850000},{"t":57.86,"d":-1660000},{"t":58.36,"d":-1590000},{"t":59.03,"d":-890000},{"t":59.55,"d":-50000},{"t":60.2,"d":260000},{"t":60.67,"d":260000},{"t":60.9,"d":-20000},{"t":61.55,"d":-250000},{"t":62.1,"d":-660000},{"t":62.75,"d":-810000},{"t":63.27,"d":-640000},{"t":63.97,"d":-130000},{"t":64.44,"d":240000},{"t":65.14,"d":80000},{"t":66.26,"d":-410000},{"t":66.83,"d":40000},{"t":67.48,"d":470000},{"t":67.92,"d":500000},{"t":68.65,"d":170000},{"t":68.85,"d":-30000},{"t":69.37,"d":120000},{"t":69.98,"d":440000},{"t":70.46,"d":490000},{"t":71.19,"d":860000},{"t":71.71,"d":560000},{"t":72.33,"d":480000},{"t":72.85,"d":270000},{"t":74.05,"d":880000},{"t":74.75,"d":1090000},{"t":75.22,"d":1070000},{"t":75.87,"d":840000},{"t":76.49,"d":570000},{"t":77.22,"d":810000},{"t":77.61,"d":1220000},{"t":78.21,"d":1700000},{"t":78.94,"d":2090000},{"t":79.63,"d":1980000},{"t":80.12,"d":1580000},{"t":80.81,"d":1330000},{"t":81.3,"d":880000},{"t":81.97,"d":470000},{"t":82.48,"d":-10000},{"t":83.03,"d":120000},{"t":83.66,"d":300000},{"t":84.34,"d":680000},{"t":84.48,"d":590000},{"t":85,"d":540000}],
"fft":[
{"s":"ULF","f":0.001,"v":0.074},{"s":"ULF","f":0.001176,"v":0.166},{"s":"ULF","f":0.001373,"v":0.1},{"s":"ULF","f":0.001569,"v":0.065},{"s":"ULF","f":0.001765,"v":0.2},{"s":"ULF","f":0.001961,"v":0.07},{"s":"ULF","f":0.002157,"v":0.09},{"s":"ULF","f":0.002353,"v":0.06},{"s":"ULF","f":0.002549,"v":0.04},{"s":"ULF","f":0.002745,"v":0.067},{"s":"ULF","f":0.002941,"v":0.1},{"s":"ULF","f":0.003137,"v":0.48},{"s":"ULF","f":0.003333,"v":0.18},{"s":"ULF","f":0.003529,"v":0.95},{"s":"ULF","f":0.003725,"v":1.0},{"s":"ULF","f":0.003922,"v":0.5},{"s":"ULF","f":0.004118,"v":0.72},{"s":"ULF","f":0.004314,"v":0.067},{"s":"ULF","f":0.00451,"v":0.45},{"s":"ULF","f":0.004706,"v":0.17},{"s":"ULF","f":0.004902,"v":0.155},{"s":"ULF","f":0.005098,"v":0.197},{"s":"ULF","f":0.005294,"v":0.18},{"s":"ULF","f":0.00549,"v":0.21},{"s":"ULF","f":0.005686,"v":0.105},{"s":"ULF","f":0.005882,"v":0.09},{"s":"ULF","f":0.006078,"v":0.056},{"s":"ULF","f":0.006275,"v":0.105},{"s":"ULF","f":0.006471,"v":0.11},{"s":"ULF","f":0.006667,"v":0.1},{"s":"ULF","f":0.006863,"v":0.027},{"s":"ULF","f":0.007059,"v":0.002},{"s":"ULF","f":0.007255,"v":0.04},{"s":"ULF","f":0.007451,"v":0.08},{"s":"ULF","f":0.00766,"v":0.042},{"s":"ULF","f":0.00785,"v":0.083},{"s":"ULF","f":0.00806,"v":0.029},{"s":"ULF","f":0.00839,"v":0.047},{"s":"ULF","f":0.00862,"v":0.081},{"s":"ULF","f":0.009,"v":0.024},{"s":"ULF","f":0.00919,"v":0.042},{"s":"ULF","f":0.0094,"v":0.027},{"s":"ULF","f":0.00962,"v":0.072},{"s":"ULF","f":0.0098,"v":0.024},{"s":"ULF","f":0.01,"v":0.056},{"s":"ULF","f":0.01022,"v":0.024},{"s":"ULF","f":0.01045,"v":0.042},{"s":"ULF","f":0.01084,"v":0.047},{"s":"ULF","f":0.01114,"v":0.029},{"s":"ULF","f":0.01141,"v":0.011},{"s":"ULF","f":0.01188,"v":0.042},{"s":"ULF","f":0.01255,"v":0.06},{"s":"ULF","f":0.01302,"v":0.033},{"s":"ULF","f":0.01375,"v":0.006},{"s":"ULF","f":0.01427,"v":0.02},{"s":"ULF","f":0.01474,"v":0.078},{"s":"ULF","f":0.01513,"v":0.02},{"s":"ULF","f":0.01606,"v":0.033},{"s":"ULF","f":0.01696,"v":0.015},{"s":"ULF","f":0.01809,"v":0.02},{"s":"ULF","f":0.01985,"v":0.006},{"s":"ULF","f":0.02095,"v":0.02},{"s":"ULF","f":0.02296,"v":0.015},{"s":"ULF","f":0.02475,"v":0.024},{"s":"ULF","f":0.02586,"v":0.015},{"s":"ULF","f":0.02855,"v":0.006},{"s":"ULF","f":0.03021,"v":0.022},{"s":"ULF","f":0.03311,"v":0.006},{"s":"ULF","f":0.03973,"v":0.013},{"s":"ULF","f":0.05044,"v":0.011},{"s":"ULF","f":0.05724,"v":0.004},{"s":"ULF","f":0.1,"v":0.003},
{"s":"EMIC","f":0.001,"v":0.1},{"s":"EMIC","f":0.001176,"v":0.23},{"s":"EMIC","f":0.001373,"v":0.106},{"s":"EMIC","f":0.001569,"v":0.11},{"s":"EMIC","f":0.001765,"v":0.165},{"s":"EMIC","f":0.001961,"v":0.216},{"s":"EMIC","f":0.002157,"v":0.177},{"s":"EMIC","f":0.002353,"v":0.125},{"s":"EMIC","f":0.002549,"v":0.2},{"s":"EMIC","f":0.002745,"v":0.067},{"s":"EMIC","f":0.002941,"v":0.123},{"s":"EMIC","f":0.003137,"v":0.267},{"s":"EMIC","f":0.003333,"v":0.456},{"s":"EMIC","f":0.003529,"v":0.168},{"s":"EMIC","f":0.003725,"v":0.717},{"s":"EMIC","f":0.003922,"v":0.17},{"s":"EMIC","f":0.004118,"v":0.2},{"s":"EMIC","f":0.004314,"v":0.1},{"s":"EMIC","f":0.00451,"v":0.197},{"s":"EMIC","f":0.004706,"v":0.18},{"s":"EMIC","f":0.004902,"v":0.348},{"s":"EMIC","f":0.005098,"v":0.126},{"s":"EMIC","f":0.005294,"v":0.074},{"s":"EMIC","f":0.00549,"v":0.17},{"s":"EMIC","f":0.005686,"v":0.022},{"s":"EMIC","f":0.005882,"v":0.27},{"s":"EMIC","f":0.006078,"v":0.14},{"s":"EMIC","f":0.006275,"v":0.146},{"s":"EMIC","f":0.006471,"v":0.25},{"s":"EMIC","f":0.006667,"v":0.24},{"s":"EMIC","f":0.006863,"v":0.19},{"s":"EMIC","f":0.007059,"v":0.273},{"s":"EMIC","f":0.007255,"v":0.05},{"s":"EMIC","f":0.007451,"v":0.047},{"s":"EMIC","f":0.00766,"v":0.038},{"s":"EMIC","f":0.00785,"v":0.137},{"s":"EMIC","f":0.00804,"v":0.245},{"s":"EMIC","f":0.00824,"v":0.164},{"s":"EMIC","f":0.00842,"v":0.078},{"s":"EMIC","f":0.00862,"v":0.092},{"s":"EMIC","f":0.00883,"v":0.042},{"s":"EMIC","f":0.00903,"v":0.074},{"s":"EMIC","f":0.00919,"v":0.078},{"s":"EMIC","f":0.00945,"v":0.11},{"s":"EMIC","f":0.00962,"v":0.1},{"s":"EMIC","f":0.0098,"v":0.148},{"s":"EMIC","f":0.01,"v":0.087},{"s":"EMIC","f":0.01022,"v":0.056},{"s":"EMIC","f":0.01059,"v":0.078},{"s":"EMIC","f":0.01078,"v":0.065},{"s":"EMIC","f":0.01114,"v":0.06},{"s":"EMIC","f":0.01141,"v":0.029},{"s":"EMIC","f":0.01177,"v":0.074},{"s":"EMIC","f":0.01199,"v":0.038},{"s":"EMIC","f":0.01232,"v":0.126},{"s":"EMIC","f":0.01255,"v":0.015},{"s":"EMIC","f":0.0129,"v":0.047},{"s":"EMIC","f":0.01332,"v":0.085},{"s":"EMIC","f":0.0137,"v":0.033},{"s":"EMIC","f":0.01413,"v":0.029},{"s":"EMIC","f":0.01479,"v":0.024},{"s":"EMIC","f":0.01513,"v":0.065},{"s":"EMIC","f":0.01549,"v":0.029},{"s":"EMIC","f":0.01606,"v":0.051},{"s":"EMIC","f":0.01696,"v":0.029},{"s":"EMIC","f":0.0176,"v":0.065},{"s":"EMIC","f":0.01793,"v":0.02},{"s":"EMIC","f":0.01826,"v":0.047},{"s":"EMIC","f":0.01912,"v":0.015},{"s":"EMIC","f":0.01965,"v":0.051},{"s":"EMIC","f":0.02001,"v":0.015},{"s":"EMIC","f":0.02057,"v":0.056},{"s":"EMIC","f":0.02095,"v":0.013},{"s":"EMIC","f":0.02254,"v":0.04},{"s":"EMIC","f":0.02338,"v":0.015},{"s":"EMIC","f":0.02516,"v":0.02},{"s":"EMIC","f":0.026,"v":0.031},{"s":"EMIC","f":0.02654,"v":0.011},{"s":"EMIC","f":0.02855,"v":0.015},{"s":"EMIC","f":0.03077,"v":0.02},{"s":"EMIC","f":0.03311,"v":0.011},{"s":"EMIC","f":0.03696,"v":0.006},{"s":"EMIC","f":0.04358,"v":0.006},{"s":"EMIC","f":0.05724,"v":0.004},{"s":"EMIC","f":0.1,"v":0.003},
{"s":"ANISOTROPY","f":0.001,"v":0.22},{"s":"ANISOTROPY","f":0.001176,"v":0.26},{"s":"ANISOTROPY","f":0.001373,"v":0.27},{"s":"ANISOTROPY","f":0.001569,"v":0.35},{"s":"ANISOTROPY","f":0.001765,"v":0.056},{"s":"ANISOTROPY","f":0.001961,"v":0.26},{"s":"ANISOTROPY","f":0.002157,"v":0.49},{"s":"ANISOTROPY","f":0.002353,"v":0.23},{"s":"ANISOTROPY","f":0.002549,"v":0.205},{"s":"ANISOTROPY","f":0.002745,"v":0.385},{"s":"ANISOTROPY","f":0.002941,"v":0.45},{"s":"ANISOTROPY","f":0.003137,"v":0.21},{"s":"ANISOTROPY","f":0.003333,"v":0.5},{"s":"ANISOTROPY","f":0.003529,"v":0.34},{"s":"ANISOTROPY","f":0.003725,"v":0.35},{"s":"ANISOTROPY","f":0.003922,"v":0.31},{"s":"ANISOTROPY","f":0.004118,"v":0.54},{"s":"ANISOTROPY","f":0.004314,"v":0.36},{"s":"ANISOTROPY","f":0.00451,"v":1.0},{"s":"ANISOTROPY","f":0.004706,"v":0.55},{"s":"ANISOTROPY","f":0.004902,"v":0.59},{"s":"ANISOTROPY","f":0.005098,"v":0.48},{"s":"ANISOTROPY","f":0.005294,"v":0.19},{"s":"ANISOTROPY","f":0.00549,"v":0.056},{"s":"ANISOTROPY","f":0.005686,"v":0.33},{"s":"ANISOTROPY","f":0.005882,"v":0.25},{"s":"ANISOTROPY","f":0.006078,"v":0.19},{"s":"ANISOTROPY","f":0.006275,"v":0.34},{"s":"ANISOTROPY","f":0.006471,"v":0.25},{"s":"ANISOTROPY","f":0.006667,"v":0.13},{"s":"ANISOTROPY","f":0.006863,"v":0.52},{"s":"ANISOTROPY","f":0.007059,"v":0.32},{"s":"ANISOTROPY","f":0.007255,"v":0.21},{"s":"ANISOTROPY","f":0.007451,"v":0.11},{"s":"ANISOTROPY","f":0.00766,"v":0.173},{"s":"ANISOTROPY","f":0.00785,"v":0.234},{"s":"ANISOTROPY","f":0.00806,"v":0.123},{"s":"ANISOTROPY","f":0.00824,"v":0.281},{"s":"ANISOTROPY","f":0.00842,"v":0.426},{"s":"ANISOTROPY","f":0.00864,"v":0.182},{"s":"ANISOTROPY","f":0.00883,"v":0.36},{"s":"ANISOTROPY","f":0.00903,"v":0.155},{"s":"ANISOTROPY","f":0.0094,"v":0.216},{"s":"ANISOTROPY","f":0.00962,"v":0.336},{"s":"ANISOTROPY","f":0.0098,"v":0.312},{"s":"ANISOTROPY","f":0.01018,"v":0.12},{"s":"ANISOTROPY","f":0.01039,"v":0.222},{"s":"ANISOTROPY","f":0.0106,"v":0.246},{"s":"ANISOTROPY","f":0.01078,"v":0.218},{"s":"ANISOTROPY","f":0.011,"v":0.135},{"s":"ANISOTROPY","f":0.01118,"v":0.112},{"s":"ANISOTROPY","f":0.01141,"v":0.171},{"s":"ANISOTROPY","f":0.01158,"v":0.141},{"s":"ANISOTROPY","f":0.01192,"v":0.281},{"s":"ANISOTROPY","f":0.01214,"v":0.308},{"s":"ANISOTROPY","f":0.01236,"v":0.254},{"s":"ANISOTROPY","f":0.01255,"v":0.285},{"s":"ANISOTROPY","f":0.01273,"v":0.056},{"s":"ANISOTROPY","f":0.01295,"v":0.101},{"s":"ANISOTROPY","f":0.01316,"v":0.18},{"s":"ANISOTROPY","f":0.01335,"v":0.189},{"s":"ANISOTROPY","f":0.01355,"v":0.119},{"s":"ANISOTROPY","f":0.01388,"v":0.243},{"s":"ANISOTROPY","f":0.01411,"v":0.042},{"s":"ANISOTROPY","f":0.0145,"v":0.204},{"s":"ANISOTROPY","f":0.01474,"v":0.141},{"s":"ANISOTROPY","f":0.01507,"v":0.263},{"s":"ANISOTROPY","f":0.01549,"v":0.101},{"s":"ANISOTROPY","f":0.01569,"v":0.186},{"s":"ANISOTROPY","f":0.016,"v":0.15},{"s":"ANISOTROPY","f":0.0163,"v":0.238},{"s":"ANISOTROPY","f":0.01667,"v":0.137},{"s":"ANISOTROPY","f":0.01685,"v":0.227},{"s":"ANISOTROPY","f":0.01707,"v":0.227},{"s":"ANISOTROPY","f":0.01735,"v":0.146},{"s":"ANISOTROPY","f":0.0176,"v":0.204},{"s":"ANISOTROPY","f":0.01796,"v":0.123},{"s":"ANISOTROPY","f":0.01836,"v":0.159},{"s":"ANISOTROPY","f":0.01877,"v":0.123},{"s":"ANISOTROPY","f":0.01912,"v":0.164},{"s":"ANISOTROPY","f":0.01954,"v":0.119},{"s":"ANISOTROPY","f":0.02001,"v":0.177},{"s":"ANISOTROPY","f":0.0203,"v":0.146},{"s":"ANISOTROPY","f":0.02064,"v":0.182},{"s":"ANISOTROPY","f":0.02103,"v":0.173},{"s":"ANISOTROPY","f":0.02153,"v":0.128},{"s":"ANISOTROPY","f":0.02193,"v":0.177},{"s":"ANISOTROPY","f":0.02233,"v":0.114},{"s":"ANISOTROPY","f":0.02275,"v":0.155},{"s":"ANISOTROPY","f":0.02338,"v":0.105},{"s":"ANISOTROPY","f":0.02381,"v":0.146},{"s":"ANISOTROPY","f":0.02434,"v":0.173},{"s":"ANISOTROPY","f":0.02479,"v":0.128},{"s":"ANISOTROPY","f":0.02516,"v":0.182},{"s":"ANISOTROPY","f":0.02586,"v":0.137},{"s":"ANISOTROPY","f":0.02633,"v":0.119},{"s":"ANISOTROPY","f":0.02682,"v":0.146},{"s":"ANISOTROPY","f":0.02732,"v":0.101},{"s":"ANISOTROPY","f":0.02808,"v":0.146},{"s":"ANISOTROPY","f":0.02886,"v":0.11},{"s":"ANISOTROPY","f":0.02939,"v":0.164},{"s":"ANISOTROPY","f":0.02993,"v":0.128},{"s":"ANISOTROPY","f":0.03077,"v":0.101},{"s":"ANISOTROPY","f":0.03162,"v":0.146},{"s":"ANISOTROPY","f":0.03221,"v":0.114},{"s":"ANISOTROPY","f":0.03311,"v":0.146},{"s":"ANISOTROPY","f":0.03403,"v":0.137},{"s":"ANISOTROPY","f":0.03497,"v":0.083},{"s":"ANISOTROPY","f":0.03628,"v":0.11},{"s":"ANISOTROPY","f":0.03763,"v":0.137},{"s":"ANISOTROPY","f":0.03868,"v":0.092},{"s":"ANISOTROPY","f":0.04012,"v":0.065},{"s":"ANISOTROPY","f":0.04162,"v":0.119},{"s":"ANISOTROPY","f":0.04239,"v":0.114},{"s":"ANISOTROPY","f":0.04397,"v":0.065},{"s":"ANISOTROPY","f":0.04603,"v":0.101},{"s":"ANISOTROPY","f":0.04818,"v":0.047},{"s":"ANISOTROPY","f":0.05044,"v":0.083},{"s":"ANISOTROPY","f":0.05231,"v":0.038},{"s":"ANISOTROPY","f":0.05427,"v":0.069},{"s":"ANISOTROPY","f":0.05681,"v":0.024},{"s":"ANISOTROPY","f":0.05893,"v":0.056},{"s":"ANISOTROPY","f":0.06057,"v":0.033},{"s":"ANISOTROPY","f":0.06225,"v":0.047},{"s":"ANISOTROPY","f":0.06517,"v":0.002},{"s":"ANISOTROPY","f":0.06698,"v":0.038},{"s":"ANISOTROPY","f":0.06885,"v":0.015},{"s":"ANISOTROPY","f":0.0714,"v":0.026},{"s":"ANISOTROPY","f":0.07475,"v":0.011},{"s":"ANISOTROPY","f":0.07825,"v":0.024},{"s":"ANISOTROPY","f":0.08043,"v":0.006},{"s":"ANISOTROPY","f":0.08267,"v":0.029},{"s":"ANISOTROPY","f":0.08575,"v":0.006},{"s":"ANISOTROPY","f":0.08976,"v":0.038},{"s":"ANISOTROPY","f":0.09397,"v":0.011},{"s":"ANISOTROPY","f":0.09659,"v":0.038},{"s":"ANISOTROPY","f":0.1,"v":0.02}]
},
"vconcat":[
{"width":2087,"height":505,"title":{"text":"(a)","offset":-21},"data":{"name":"bx"},
"encoding":{"x":{"field":"t","type":"quantitative","scale":{"domain":[0,85],"nice":false},"title":null,"axis":{"values":[5,35,65],"labels":false}}},
"layer":[
{"mark":{"type":"line","color":"#231f20","strokeWidth":4,"interpolate":"monotone","clip":true},"encoding":{"y":{"field":"v","type":"quantitative","scale":{"domain":[-4,6],"nice":false},"axis":{"values":[-4,-2,0,2,4,6],"title":"Bₓ / nT","titleX":-118}}}},
{"mark":{"type":"line","opacity":0},"encoding":{"y":{"field":"v","type":"quantitative","scale":{"domain":[-4,6],"nice":false},"axis":{"orient":"right","values":[-2,0,2,4],"labels":false,"title":null}}}}],
"resolve":{"scale":{"y":"independent"},"axis":{"y":"independent"}}},
{"width":2087,"height":110,"data":{"values":[{"gap":1}]},"mark":{"type":"rect","opacity":0},"view":{"stroke":null}},
{"width":2087,"height":506,"title":{"text":"(b)","offset":-12},
"encoding":{"x":{"field":"t","type":"quantitative","scale":{"domain":[0,85],"nice":false},"title":null,"axis":{"values":[5,35,65],"labels":false}}},
"layer":[
{"data":{"name":"spec"},"mark":{"type":"rect","width":25,"height":16,"clip":true},"encoding":{"y":{"field":"f","type":"quantitative","scale":{"type":"log","domain":[0.1,2],"nice":false},"axis":{"values":[0.1,1],"format":".1f","title":"f / Hz","titleX":-133}},"color":{"field":"v","type":"quantitative","scale":{"domain":[-5,-4.72,-4.48,-4.16,-3.76,-3.6,-3.4,-3.16,-2.88,-2.48,-2.16,-2,-1.84,-1.68,-1.4,-1.24,-1.12,-1],"range":["#120c0e","#1a1015","#4b2a7d","#35479f","#3f74bd","#55c4ee","#6dcdc5","#66c97e","#5fc02f","#a6d632","#e8e827","#f4c020","#f7941e","#f15a24","#ee2024","#ed2024","#8e1f24","#8b2026"]},"legend":{"orient":"none","legendX":2254,"legendY":0,"title":null,"type":"gradient","gradientLength":506,"gradientThickness":32,"gradientStrokeColor":"#231f20","gradientStrokeWidth":3.5,"labelFontSize":56,"labelOffset":22,"values":[-5,-4,-3,-2,-1],"labelExpr":"datum.value==-1?'10⁻¹':datum.value==-2?'10⁻²':datum.value==-3?'10⁻³':datum.value==-4?'10⁻⁴':'10⁻⁵'","encoding":{"labels":{"baseline":{"value":"middle"}}}}}}},
{"data":{"name":"gyro"},"mark":{"type":"line","color":"#ed2024","strokeWidth":5,"clip":true},"encoding":{"detail":{"field":"s"},"y":{"field":"f","type":"quantitative","scale":{"type":"log","domain":[0.1,2],"nice":false},"axis":null}}},
{"data":{"values":[{"t":1.55,"f":1.114,"s":"f"},{"t":1.55,"f":0.279,"s":"f"}]},"mark":{"type":"text","font":"Liberation Serif","fontStyle":"italic","fontSize":56,"color":"#ed2024","align":"center","baseline":"alphabetic"},"encoding":{"text":{"field":"s"},"y":{"field":"f","type":"quantitative","scale":{"type":"log","domain":[0.1,2],"nice":false},"axis":null}}},
{"data":{"values":[{"t":1.94,"f":1.114,"s":"cH+"},{"t":1.94,"f":0.279,"s":"cHe+"}]},"mark":{"type":"text","font":"Liberation Serif","fontSize":36,"color":"#ed2024","align":"left","baseline":"alphabetic"},"encoding":{"text":{"field":"s"},"y":{"field":"f","type":"quantitative","scale":{"type":"log","domain":[0.1,2],"nice":false},"axis":null}}},
{"data":{"name":"ulf2"},"mark":{"type":"line","color":"#231f20","strokeWidth":4,"interpolate":"monotone","clip":true},"encoding":{"y":{"field":"v","type":"quantitative","scale":{"domain":[-4,1],"nice":false},"axis":{"orient":"right","values":[-4,-3,-2,-1,0,1],"title":"lgPb / (nT·Hz⁻¹)","titleX":408,"titleY":254,"titleAngle":-90,"titleBaseline":"bottom","titleAlign":"center"}}}}],
"resolve":{"scale":{"y":"independent"},"axis":{"y":"independent"}}},
{"width":2087,"height":124,"data":{"values":[{"gap":1}]},"mark":{"type":"rect","opacity":0},"view":{"stroke":null}},
{"width":2087,"height":506,"title":{"text":"(c)","offset":-58},
"encoding":{"x":{"field":"t","type":"quantitative","scale":{"domain":[0,85],"nice":false},"title":null,"axis":{"values":[0,5,35,65],"labelPadding":30,"labelExpr":"datum.value==0?'UT':datum.value==5?'11:30':datum.value==35?'12:00':'12:30'"}}},
"layer":[
{"data":{"name":"heat"},"mark":{"type":"rect","width":50,"height":32.5,"clip":true},"encoding":{"y":{"field":"a","type":"quantitative","scale":{"domain":[0,180],"nice":false},"axis":{"values":[0,50,100,150],"title":"Pitch angle / (°)","titleX":-151}},"color":{"field":"v","type":"quantitative","scale":{"domain":[5.737,5.834,5.918,6.029,6.168,6.223,6.293,6.376,6.473,6.612,6.723,6.779,6.834,6.89,6.987,7.043,7.084,7.126],"range":["#120c0e","#1a1015","#4b2a7d","#35479f","#3f74bd","#55c4ee","#6dcdc5","#66c97e","#5fc02f","#a6d632","#e8e827","#f4c020","#f7941e","#f15a24","#ee2024","#ed2024","#8e1f24","#8b2026"]},"legend":{"orient":"none","legendX":2328,"legendY":0,"title":null,"type":"gradient","gradientLength":511,"gradientThickness":33,"gradientStrokeColor":"#231f20","gradientStrokeWidth":3.5,"labelFontSize":56,"labelOffset":21,"values":[6,7],"labelExpr":"datum.value==7?'10⁷':'10⁶'"}}}},
{"data":{"values":[{"t":36.8,"a":156,"s":"9 keV"}]},"mark":{"type":"text","font":"Liberation Serif","fontSize":52,"color":"#231f20"},"encoding":{"text":{"field":"s"},"y":{"field":"a","type":"quantitative","scale":{"domain":[0,180],"nice":false},"axis":null}}},
{"data":{"name":"anis"},"mark":{"type":"line","color":"#231f20","strokeWidth":3.5,"clip":true},"encoding":{"y":{"field":"d","type":"quantitative","scale":{"domain":[-2000000,3000000],"nice":false},"axis":{"orient":"right","values":[-2000000,-1000000,0,1000000,2000000,3000000],"labelExpr":"datum.value==0?'0':(datum.value<0?'−':'')+abs(datum.value)/1000000+'×10⁶'","title":"ΔT / (eV⁻¹·s⁻¹·cm⁻²·str⁻¹·eV⁻¹)","titleX":453,"titleY":269,"titleAngle":-90,"titleBaseline":"bottom","titleAlign":"center"}}}}],
"resolve":{"scale":{"y":"independent"},"axis":{"y":"independent"}}},
{"width":2087,"height":146,"data":{"values":[{"gap":1}]},"mark":{"type":"rect","opacity":0},"view":{"stroke":null}},
{"width":2087,"height":510,"title":{"text":"(d)","offset":-22},
"layer":[
{"data":{"values":[{"lo":0.00341,"hi":0.00471}]},"mark":{"type":"rect","color":"#dcdddd"},"encoding":{"x":{"field":"lo","type":"quantitative","scale":{"type":"log","domain":[0.001,0.1],"nice":false},"title":"Frequency / Hz","axis":{"values":[0.001,0.002,0.003,0.004,0.005,0.006,0.007,0.008,0.009,0.01,0.02,0.03,0.04,0.05,0.06,0.07,0.08,0.09,0.1],"labelPadding":34,"labelExpr":"datum.value==0.001?'10⁻³':datum.value==0.01?'10⁻²':datum.value==0.1?'10⁻¹':''","titlePadding":30}},"x2":{"field":"hi"}}},
{"data":{"name":"fft"},"mark":{"type":"line","strokeWidth":3,"clip":true},"encoding":{"x":{"field":"f","type":"quantitative","scale":{"type":"log","domain":[0.001,0.1],"nice":false}},"y":{"field":"v","type":"quantitative","scale":{"domain":[0,1],"nice":false},"axis":{"values":[0,0.2,0.4,0.6,0.8,1],"labelExpr":"datum.value==0?'0':format(datum.value,'.1f')","title":"FFT","titleX":-120}},"color":{"field":"s","type":"nominal","scale":{"domain":["ULF","EMIC","ANISOTROPY"],"range":["#231f20","#2e4a9e","#ed2024"]},"legend":{"orient":"none","legendX":1234,"legendY":54,"title":null,"symbolType":"stroke","symbolSize":7800,"symbolStrokeWidth":3,"clipHeight":46,"rowPadding":-8,"labelFontSize":54,"labelOffset":8,"labelExpr":"': '+datum.label"}}}},
{"data":{"name":"fft"},"mark":{"type":"line","opacity":0},"encoding":{"x":{"field":"f","type":"quantitative","scale":{"type":"log","domain":[0.001,0.1],"nice":false}},"detail":{"field":"s"},"y":{"field":"v","type":"quantitative","scale":{"domain":[0,1],"nice":false},"axis":{"orient":"right","values":[0.2,0.4,0.6,0.8],"labels":false,"title":null}}}}],
"resolve":{"scale":{"y":"independent"},"axis":{"y":"independent"}}}]}
